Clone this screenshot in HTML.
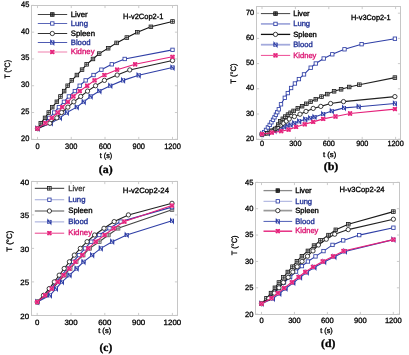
<!DOCTYPE html>
<html><head><meta charset="utf-8"><style>
html,body{margin:0;padding:0;background:#fff;width:409px;height:355px;overflow:hidden}
svg{display:block;will-change:transform} text{text-rendering:geometricPrecision}
</style></head><body>
<svg width="409" height="355" viewBox="0 0 409 355">
<rect width="409" height="355" fill="#fff"/>
<rect x="31.5" y="5.5" width="146.0" height="134.0" fill="none" stroke="#c6c6c6" stroke-width="1"/>
<path d="M31.5 139.30h2.6M177.5 139.30h-2.6" stroke="#c6c6c6" stroke-width="0.9"/>
<text x="29.40" y="140.70" font-family="Liberation Sans" font-size="7.9" fill="#000" stroke="#000" stroke-width="0.3" text-anchor="end" textLength="8.3" lengthAdjust="spacingAndGlyphs">20</text>
<path d="M31.5 112.52h2.6M177.5 112.52h-2.6" stroke="#c6c6c6" stroke-width="0.9"/>
<text x="29.40" y="113.92" font-family="Liberation Sans" font-size="7.9" fill="#000" stroke="#000" stroke-width="0.3" text-anchor="end" textLength="8.3" lengthAdjust="spacingAndGlyphs">25</text>
<path d="M31.5 85.74h2.6M177.5 85.74h-2.6" stroke="#c6c6c6" stroke-width="0.9"/>
<text x="29.40" y="87.14" font-family="Liberation Sans" font-size="7.9" fill="#000" stroke="#000" stroke-width="0.3" text-anchor="end" textLength="8.3" lengthAdjust="spacingAndGlyphs">30</text>
<path d="M31.5 58.96h2.6M177.5 58.96h-2.6" stroke="#c6c6c6" stroke-width="0.9"/>
<text x="29.40" y="60.36" font-family="Liberation Sans" font-size="7.9" fill="#000" stroke="#000" stroke-width="0.3" text-anchor="end" textLength="8.3" lengthAdjust="spacingAndGlyphs">35</text>
<path d="M31.5 32.18h2.6M177.5 32.18h-2.6" stroke="#c6c6c6" stroke-width="0.9"/>
<text x="29.40" y="33.58" font-family="Liberation Sans" font-size="7.9" fill="#000" stroke="#000" stroke-width="0.3" text-anchor="end" textLength="8.3" lengthAdjust="spacingAndGlyphs">40</text>
<path d="M31.5 5.40h2.6M177.5 5.40h-2.6" stroke="#c6c6c6" stroke-width="0.9"/>
<text x="29.40" y="6.80" font-family="Liberation Sans" font-size="7.9" fill="#000" stroke="#000" stroke-width="0.3" text-anchor="end" textLength="8.3" lengthAdjust="spacingAndGlyphs">45</text>
<path d="M37.50 139.5v-2.6M37.50 5.5v2.6" stroke="#c6c6c6" stroke-width="0.9"/>
<text x="37.50" y="148.70" font-family="Liberation Sans" font-size="7.9" fill="#000" stroke="#000" stroke-width="0.3" text-anchor="middle" textLength="4.15" lengthAdjust="spacingAndGlyphs">0</text>
<path d="M71.25 139.5v-2.6M71.25 5.5v2.6" stroke="#c6c6c6" stroke-width="0.9"/>
<text x="71.25" y="148.70" font-family="Liberation Sans" font-size="7.9" fill="#000" stroke="#000" stroke-width="0.3" text-anchor="middle" textLength="12.450000000000001" lengthAdjust="spacingAndGlyphs">300</text>
<path d="M105.00 139.5v-2.6M105.00 5.5v2.6" stroke="#c6c6c6" stroke-width="0.9"/>
<text x="105.00" y="148.70" font-family="Liberation Sans" font-size="7.9" fill="#000" stroke="#000" stroke-width="0.3" text-anchor="middle" textLength="12.450000000000001" lengthAdjust="spacingAndGlyphs">600</text>
<path d="M138.75 139.5v-2.6M138.75 5.5v2.6" stroke="#c6c6c6" stroke-width="0.9"/>
<text x="138.75" y="148.70" font-family="Liberation Sans" font-size="7.9" fill="#000" stroke="#000" stroke-width="0.3" text-anchor="middle" textLength="12.450000000000001" lengthAdjust="spacingAndGlyphs">900</text>
<path d="M172.50 139.5v-2.6M172.50 5.5v2.6" stroke="#c6c6c6" stroke-width="0.9"/>
<text x="172.50" y="148.70" font-family="Liberation Sans" font-size="7.9" fill="#000" stroke="#000" stroke-width="0.3" text-anchor="middle" textLength="16.6" lengthAdjust="spacingAndGlyphs">1200</text>
<text x="106.00" y="158.20" font-family="Liberation Sans" font-size="7.3" fill="#000" stroke="#000" stroke-width="0.33" text-anchor="middle" textLength="12.5" lengthAdjust="spacingAndGlyphs">t (s)</text>
<text x="105.70" y="172.50" font-family="Liberation Serif" font-size="11.3" fill="#000" stroke="#000" stroke-width="0.33" text-anchor="middle" textLength="13.8" lengthAdjust="spacingAndGlyphs" font-weight="bold">(a)</text>
<text transform="translate(9.6 69.3) rotate(-90)" font-family="Liberation Sans" font-size="7.8" stroke="#000" stroke-width="0.3" text-anchor="middle" textLength="18.6" lengthAdjust="spacingAndGlyphs">T (°C)</text>
<text x="123.10" y="19.10" font-family="Liberation Sans" font-size="7.7" fill="#000" stroke="#000" stroke-width="0.33" textLength="40.3" lengthAdjust="spacingAndGlyphs">H-v2Cop2-1</text>
<path d="M37.50 128.59 L50.89 123.23 L60.00 117.88 L66.86 112.52 L76.76 107.16 L83.74 101.81 L90.60 96.45 L99.38 91.10 L110.29 85.74 L123.11 80.38 L138.64 75.30 L172.50 67.53" fill="none" stroke="#2f3fa6" stroke-width="1.1"/>
<rect x="35.80" y="126.89" width="3.40" height="3.40" fill="#fff" stroke="#2f3fa6" stroke-width="0.5"/><path d="M36.05 130.54V126.64L38.95 130.54V126.64" fill="none" stroke="#2f3fa6" stroke-width="1.1"/>
<rect x="49.19" y="121.53" width="3.40" height="3.40" fill="#fff" stroke="#2f3fa6" stroke-width="0.5"/><path d="M49.44 125.18V121.28L52.34 125.18V121.28" fill="none" stroke="#2f3fa6" stroke-width="1.1"/>
<rect x="58.30" y="116.18" width="3.40" height="3.40" fill="#fff" stroke="#2f3fa6" stroke-width="0.5"/><path d="M58.55 119.83V115.93L61.45 119.83V115.93" fill="none" stroke="#2f3fa6" stroke-width="1.1"/>
<rect x="65.16" y="110.82" width="3.40" height="3.40" fill="#fff" stroke="#2f3fa6" stroke-width="0.5"/><path d="M65.41 114.47V110.57L68.31 114.47V110.57" fill="none" stroke="#2f3fa6" stroke-width="1.1"/>
<rect x="75.06" y="105.46" width="3.40" height="3.40" fill="#fff" stroke="#2f3fa6" stroke-width="0.5"/><path d="M75.31 109.11V105.21L78.21 109.11V105.21" fill="none" stroke="#2f3fa6" stroke-width="1.1"/>
<rect x="82.04" y="100.11" width="3.40" height="3.40" fill="#fff" stroke="#2f3fa6" stroke-width="0.5"/><path d="M82.29 103.76V99.86L85.19 103.76V99.86" fill="none" stroke="#2f3fa6" stroke-width="1.1"/>
<rect x="88.90" y="94.75" width="3.40" height="3.40" fill="#fff" stroke="#2f3fa6" stroke-width="0.5"/><path d="M89.15 98.40V94.50L92.05 98.40V94.50" fill="none" stroke="#2f3fa6" stroke-width="1.1"/>
<rect x="97.67" y="89.40" width="3.40" height="3.40" fill="#fff" stroke="#2f3fa6" stroke-width="0.5"/><path d="M97.92 93.05V89.15L100.83 93.05V89.15" fill="none" stroke="#2f3fa6" stroke-width="1.1"/>
<rect x="108.59" y="84.04" width="3.40" height="3.40" fill="#fff" stroke="#2f3fa6" stroke-width="0.5"/><path d="M108.84 87.69V83.79L111.74 87.69V83.79" fill="none" stroke="#2f3fa6" stroke-width="1.1"/>
<rect x="121.41" y="78.68" width="3.40" height="3.40" fill="#fff" stroke="#2f3fa6" stroke-width="0.5"/><path d="M121.66 82.33V78.43L124.56 82.33V78.43" fill="none" stroke="#2f3fa6" stroke-width="1.1"/>
<rect x="136.94" y="73.60" width="3.40" height="3.40" fill="#fff" stroke="#2f3fa6" stroke-width="0.5"/><path d="M137.19 77.25V73.35L140.09 77.25V73.35" fill="none" stroke="#2f3fa6" stroke-width="1.1"/>
<rect x="170.80" y="65.83" width="3.40" height="3.40" fill="#fff" stroke="#2f3fa6" stroke-width="0.5"/><path d="M171.05 69.48V65.58L173.95 69.48V65.58" fill="none" stroke="#2f3fa6" stroke-width="1.1"/>
<path d="M37.50 128.59 L49.88 123.23 L56.85 117.88 L61.58 112.52 L67.88 107.16 L73.84 101.81 L80.70 96.45 L87.56 91.10 L95.55 85.74 L104.44 80.38 L117.15 75.03 L129.75 69.94 L172.50 60.57" fill="none" stroke="#222" stroke-width="1.1"/>
<circle cx="37.50" cy="128.59" r="2.15" fill="#fff" stroke="#1e1e1e" stroke-width="0.85"/>
<circle cx="49.88" cy="123.23" r="2.15" fill="#fff" stroke="#1e1e1e" stroke-width="0.85"/>
<circle cx="56.85" cy="117.88" r="2.15" fill="#fff" stroke="#1e1e1e" stroke-width="0.85"/>
<circle cx="61.58" cy="112.52" r="2.15" fill="#fff" stroke="#1e1e1e" stroke-width="0.85"/>
<circle cx="67.88" cy="107.16" r="2.15" fill="#fff" stroke="#1e1e1e" stroke-width="0.85"/>
<circle cx="73.84" cy="101.81" r="2.15" fill="#fff" stroke="#1e1e1e" stroke-width="0.85"/>
<circle cx="80.70" cy="96.45" r="2.15" fill="#fff" stroke="#1e1e1e" stroke-width="0.85"/>
<circle cx="87.56" cy="91.10" r="2.15" fill="#fff" stroke="#1e1e1e" stroke-width="0.85"/>
<circle cx="95.55" cy="85.74" r="2.15" fill="#fff" stroke="#1e1e1e" stroke-width="0.85"/>
<circle cx="104.44" cy="80.38" r="2.15" fill="#fff" stroke="#1e1e1e" stroke-width="0.85"/>
<circle cx="117.15" cy="75.03" r="2.15" fill="#fff" stroke="#1e1e1e" stroke-width="0.85"/>
<circle cx="129.75" cy="69.94" r="2.15" fill="#fff" stroke="#1e1e1e" stroke-width="0.85"/>
<circle cx="172.50" cy="60.57" r="2.15" fill="#fff" stroke="#1e1e1e" stroke-width="0.85"/>
<path d="M37.50 128.59 L43.69 123.23 L49.31 117.88 L54.15 112.52 L58.88 107.16 L63.94 101.81 L68.89 96.45 L74.85 91.10 L79.69 85.74 L85.65 80.38 L93.53 75.03 L101.40 69.67 L111.75 64.32 L124.69 58.96 L172.50 49.85" fill="none" stroke="#2f3fa6" stroke-width="1.1"/>
<rect x="35.80" y="126.89" width="3.40" height="3.40" fill="#fff" stroke="#2f3fa6" stroke-width="0.85"/>
<rect x="41.99" y="121.53" width="3.40" height="3.40" fill="#fff" stroke="#2f3fa6" stroke-width="0.85"/>
<rect x="47.61" y="116.18" width="3.40" height="3.40" fill="#fff" stroke="#2f3fa6" stroke-width="0.85"/>
<rect x="52.45" y="110.82" width="3.40" height="3.40" fill="#fff" stroke="#2f3fa6" stroke-width="0.85"/>
<rect x="57.17" y="105.46" width="3.40" height="3.40" fill="#fff" stroke="#2f3fa6" stroke-width="0.85"/>
<rect x="62.24" y="100.11" width="3.40" height="3.40" fill="#fff" stroke="#2f3fa6" stroke-width="0.85"/>
<rect x="67.19" y="94.75" width="3.40" height="3.40" fill="#fff" stroke="#2f3fa6" stroke-width="0.85"/>
<rect x="73.15" y="89.40" width="3.40" height="3.40" fill="#fff" stroke="#2f3fa6" stroke-width="0.85"/>
<rect x="77.99" y="84.04" width="3.40" height="3.40" fill="#fff" stroke="#2f3fa6" stroke-width="0.85"/>
<rect x="83.95" y="78.68" width="3.40" height="3.40" fill="#fff" stroke="#2f3fa6" stroke-width="0.85"/>
<rect x="91.83" y="73.33" width="3.40" height="3.40" fill="#fff" stroke="#2f3fa6" stroke-width="0.85"/>
<rect x="99.70" y="67.97" width="3.40" height="3.40" fill="#fff" stroke="#2f3fa6" stroke-width="0.85"/>
<rect x="110.05" y="62.62" width="3.40" height="3.40" fill="#fff" stroke="#2f3fa6" stroke-width="0.85"/>
<rect x="122.99" y="57.26" width="3.40" height="3.40" fill="#fff" stroke="#2f3fa6" stroke-width="0.85"/>
<rect x="170.80" y="48.15" width="3.40" height="3.40" fill="#fff" stroke="#2f3fa6" stroke-width="0.85"/>
<path d="M37.50 128.59 L40.76 123.23 L45.04 117.88 L48.75 112.52 L52.24 107.16 L56.85 101.81 L60.45 96.45 L64.16 91.10 L67.65 85.74 L71.81 80.38 L76.88 75.03 L82.05 69.67 L86.66 64.32 L92.96 58.96 L99.15 53.60 L108.15 48.25 L116.59 42.89 L126.83 37.54 L137.40 32.18 L150.90 26.82 L172.50 21.47" fill="none" stroke="#111" stroke-width="1.1"/>
<rect x="35.70" y="126.79" width="3.60" height="3.60" fill="#e4e4e4" stroke="#111" stroke-width="0.75"/><path d="M37.50 126.79V130.39M35.70 128.59H39.30" stroke="#111" stroke-width="0.6"/>
<rect x="38.96" y="121.43" width="3.60" height="3.60" fill="#e4e4e4" stroke="#111" stroke-width="0.75"/><path d="M40.76 121.43V125.03M38.96 123.23H42.56" stroke="#111" stroke-width="0.6"/>
<rect x="43.24" y="116.08" width="3.60" height="3.60" fill="#e4e4e4" stroke="#111" stroke-width="0.75"/><path d="M45.04 116.08V119.68M43.24 117.88H46.84" stroke="#111" stroke-width="0.6"/>
<rect x="46.95" y="110.72" width="3.60" height="3.60" fill="#e4e4e4" stroke="#111" stroke-width="0.75"/><path d="M48.75 110.72V114.32M46.95 112.52H50.55" stroke="#111" stroke-width="0.6"/>
<rect x="50.44" y="105.36" width="3.60" height="3.60" fill="#e4e4e4" stroke="#111" stroke-width="0.75"/><path d="M52.24 105.36V108.96M50.44 107.16H54.04" stroke="#111" stroke-width="0.6"/>
<rect x="55.05" y="100.01" width="3.60" height="3.60" fill="#e4e4e4" stroke="#111" stroke-width="0.75"/><path d="M56.85 100.01V103.61M55.05 101.81H58.65" stroke="#111" stroke-width="0.6"/>
<rect x="58.65" y="94.65" width="3.60" height="3.60" fill="#e4e4e4" stroke="#111" stroke-width="0.75"/><path d="M60.45 94.65V98.25M58.65 96.45H62.25" stroke="#111" stroke-width="0.6"/>
<rect x="62.36" y="89.30" width="3.60" height="3.60" fill="#e4e4e4" stroke="#111" stroke-width="0.75"/><path d="M64.16 89.30V92.90M62.36 91.10H65.96" stroke="#111" stroke-width="0.6"/>
<rect x="65.85" y="83.94" width="3.60" height="3.60" fill="#e4e4e4" stroke="#111" stroke-width="0.75"/><path d="M67.65 83.94V87.54M65.85 85.74H69.45" stroke="#111" stroke-width="0.6"/>
<rect x="70.01" y="78.58" width="3.60" height="3.60" fill="#e4e4e4" stroke="#111" stroke-width="0.75"/><path d="M71.81 78.58V82.18M70.01 80.38H73.61" stroke="#111" stroke-width="0.6"/>
<rect x="75.08" y="73.23" width="3.60" height="3.60" fill="#e4e4e4" stroke="#111" stroke-width="0.75"/><path d="M76.88 73.23V76.83M75.08 75.03H78.67" stroke="#111" stroke-width="0.6"/>
<rect x="80.25" y="67.87" width="3.60" height="3.60" fill="#e4e4e4" stroke="#111" stroke-width="0.75"/><path d="M82.05 67.87V71.47M80.25 69.67H83.85" stroke="#111" stroke-width="0.6"/>
<rect x="84.86" y="62.52" width="3.60" height="3.60" fill="#e4e4e4" stroke="#111" stroke-width="0.75"/><path d="M86.66 62.52V66.12M84.86 64.32H88.46" stroke="#111" stroke-width="0.6"/>
<rect x="91.16" y="57.16" width="3.60" height="3.60" fill="#e4e4e4" stroke="#111" stroke-width="0.75"/><path d="M92.96 57.16V60.76M91.16 58.96H94.76" stroke="#111" stroke-width="0.6"/>
<rect x="97.35" y="51.80" width="3.60" height="3.60" fill="#e4e4e4" stroke="#111" stroke-width="0.75"/><path d="M99.15 51.80V55.40M97.35 53.60H100.95" stroke="#111" stroke-width="0.6"/>
<rect x="106.35" y="46.45" width="3.60" height="3.60" fill="#e4e4e4" stroke="#111" stroke-width="0.75"/><path d="M108.15 46.45V50.05M106.35 48.25H109.95" stroke="#111" stroke-width="0.6"/>
<rect x="114.79" y="41.09" width="3.60" height="3.60" fill="#e4e4e4" stroke="#111" stroke-width="0.75"/><path d="M116.59 41.09V44.69M114.79 42.89H118.39" stroke="#111" stroke-width="0.6"/>
<rect x="125.03" y="35.74" width="3.60" height="3.60" fill="#e4e4e4" stroke="#111" stroke-width="0.75"/><path d="M126.83 35.74V39.34M125.03 37.54H128.62" stroke="#111" stroke-width="0.6"/>
<rect x="135.60" y="30.38" width="3.60" height="3.60" fill="#e4e4e4" stroke="#111" stroke-width="0.75"/><path d="M137.40 30.38V33.98M135.60 32.18H139.20" stroke="#111" stroke-width="0.6"/>
<rect x="149.10" y="25.02" width="3.60" height="3.60" fill="#e4e4e4" stroke="#111" stroke-width="0.75"/><path d="M150.90 25.02V28.62M149.10 26.82H152.70" stroke="#111" stroke-width="0.6"/>
<rect x="170.70" y="19.67" width="3.60" height="3.60" fill="#e4e4e4" stroke="#111" stroke-width="0.75"/><path d="M172.50 19.67V23.27M170.70 21.47H174.30" stroke="#111" stroke-width="0.6"/>
<path d="M37.50 128.59 L45.38 123.23 L51.79 117.88 L57.75 112.52 L62.25 107.16 L67.88 101.81 L73.39 96.45 L79.69 91.10 L87.22 85.74 L94.54 80.38 L104.44 75.03 L117.15 69.67 L135.15 64.32 L172.50 56.82" fill="none" stroke="#e5207a" stroke-width="1.1"/>
<rect x="35.60" y="126.69" width="3.80" height="3.80" fill="#fff" stroke="none"/><path d="M35.60 126.69L39.40 130.49M39.40 126.69L35.60 130.49" stroke="#e5207a" stroke-width="1.4"/><rect x="35.90" y="126.99" width="3.20" height="3.20" fill="none" stroke="#e5207a" stroke-width="0.7"/>
<rect x="43.48" y="121.33" width="3.80" height="3.80" fill="#fff" stroke="none"/><path d="M43.48 121.33L47.27 125.13M47.27 121.33L43.48 125.13" stroke="#e5207a" stroke-width="1.4"/><rect x="43.77" y="121.63" width="3.20" height="3.20" fill="none" stroke="#e5207a" stroke-width="0.7"/>
<rect x="49.89" y="115.98" width="3.80" height="3.80" fill="#fff" stroke="none"/><path d="M49.89 115.98L53.69 119.78M53.69 115.98L49.89 119.78" stroke="#e5207a" stroke-width="1.4"/><rect x="50.19" y="116.28" width="3.20" height="3.20" fill="none" stroke="#e5207a" stroke-width="0.7"/>
<rect x="55.85" y="110.62" width="3.80" height="3.80" fill="#fff" stroke="none"/><path d="M55.85 110.62L59.65 114.42M59.65 110.62L55.85 114.42" stroke="#e5207a" stroke-width="1.4"/><rect x="56.15" y="110.92" width="3.20" height="3.20" fill="none" stroke="#e5207a" stroke-width="0.7"/>
<rect x="60.35" y="105.26" width="3.80" height="3.80" fill="#fff" stroke="none"/><path d="M60.35 105.26L64.15 109.06M64.15 105.26L60.35 109.06" stroke="#e5207a" stroke-width="1.4"/><rect x="60.65" y="105.56" width="3.20" height="3.20" fill="none" stroke="#e5207a" stroke-width="0.7"/>
<rect x="65.97" y="99.91" width="3.80" height="3.80" fill="#fff" stroke="none"/><path d="M65.97 99.91L69.78 103.71M69.78 99.91L65.97 103.71" stroke="#e5207a" stroke-width="1.4"/><rect x="66.27" y="100.21" width="3.20" height="3.20" fill="none" stroke="#e5207a" stroke-width="0.7"/>
<rect x="71.49" y="94.55" width="3.80" height="3.80" fill="#fff" stroke="none"/><path d="M71.49 94.55L75.29 98.35M75.29 94.55L71.49 98.35" stroke="#e5207a" stroke-width="1.4"/><rect x="71.79" y="94.85" width="3.20" height="3.20" fill="none" stroke="#e5207a" stroke-width="0.7"/>
<rect x="77.79" y="89.20" width="3.80" height="3.80" fill="#fff" stroke="none"/><path d="M77.79 89.20L81.59 93.00M81.59 89.20L77.79 93.00" stroke="#e5207a" stroke-width="1.4"/><rect x="78.09" y="89.50" width="3.20" height="3.20" fill="none" stroke="#e5207a" stroke-width="0.7"/>
<rect x="85.32" y="83.84" width="3.80" height="3.80" fill="#fff" stroke="none"/><path d="M85.32 83.84L89.12 87.64M89.12 83.84L85.32 87.64" stroke="#e5207a" stroke-width="1.4"/><rect x="85.62" y="84.14" width="3.20" height="3.20" fill="none" stroke="#e5207a" stroke-width="0.7"/>
<rect x="92.64" y="78.48" width="3.80" height="3.80" fill="#fff" stroke="none"/><path d="M92.64 78.48L96.44 82.28M96.44 78.48L92.64 82.28" stroke="#e5207a" stroke-width="1.4"/><rect x="92.94" y="78.78" width="3.20" height="3.20" fill="none" stroke="#e5207a" stroke-width="0.7"/>
<rect x="102.54" y="73.13" width="3.80" height="3.80" fill="#fff" stroke="none"/><path d="M102.54 73.13L106.34 76.93M106.34 73.13L102.54 76.93" stroke="#e5207a" stroke-width="1.4"/><rect x="102.84" y="73.43" width="3.20" height="3.20" fill="none" stroke="#e5207a" stroke-width="0.7"/>
<rect x="115.25" y="67.77" width="3.80" height="3.80" fill="#fff" stroke="none"/><path d="M115.25 67.77L119.05 71.57M119.05 67.77L115.25 71.57" stroke="#e5207a" stroke-width="1.4"/><rect x="115.55" y="68.07" width="3.20" height="3.20" fill="none" stroke="#e5207a" stroke-width="0.7"/>
<rect x="133.25" y="62.42" width="3.80" height="3.80" fill="#fff" stroke="none"/><path d="M133.25 62.42L137.05 66.22M137.05 62.42L133.25 66.22" stroke="#e5207a" stroke-width="1.4"/><rect x="133.55" y="62.72" width="3.20" height="3.20" fill="none" stroke="#e5207a" stroke-width="0.7"/>
<rect x="170.60" y="54.92" width="3.80" height="3.80" fill="#fff" stroke="none"/><path d="M170.60 54.92L174.40 58.72M174.40 54.92L170.60 58.72" stroke="#e5207a" stroke-width="1.4"/><rect x="170.90" y="55.22" width="3.20" height="3.20" fill="none" stroke="#e5207a" stroke-width="0.7"/>
<path d="M37.8 14.5H67.2" stroke="#444" stroke-width="1.0"/>
<rect x="50.50" y="12.70" width="3.60" height="3.60" fill="#777" stroke="#111" stroke-width="0.75"/><path d="M52.30 12.70V16.30M50.50 14.50H54.10" stroke="#111" stroke-width="0.6"/>
<text x="70.70" y="16.70" font-family="Liberation Sans" font-size="7.8" fill="#000" stroke="#000" stroke-width="0.33">Liver</text>
<path d="M37.8 23.5H67.2" stroke="#5a66b8" stroke-width="1.0"/>
<rect x="50.60" y="21.80" width="3.40" height="3.40" fill="#fff" stroke="#2f3fa6" stroke-width="0.85"/>
<text x="70.70" y="25.70" font-family="Liberation Sans" font-size="7.8" fill="#1f2f94" stroke="#1f2f94" stroke-width="0.33">Lung</text>
<path d="M37.8 33.5H67.2" stroke="#333" stroke-width="1.0"/>
<circle cx="52.30" cy="33.50" r="2.15" fill="#fff" stroke="#1e1e1e" stroke-width="0.85"/>
<text x="70.70" y="35.70" font-family="Liberation Sans" font-size="7.8" fill="#000" stroke="#000" stroke-width="0.33">Spleen</text>
<path d="M37.8 42.5H67.2" stroke="#4e5ab2" stroke-width="1.0"/>
<rect x="50.60" y="40.80" width="3.40" height="3.40" fill="#fff" stroke="#2f3fa6" stroke-width="0.5"/><path d="M50.85 44.45V40.55L53.75 44.45V40.55" fill="none" stroke="#2f3fa6" stroke-width="1.1"/>
<text x="70.70" y="44.70" font-family="Liberation Sans" font-size="7.8" fill="#1f2f94" stroke="#1f2f94" stroke-width="0.33">Blood</text>
<path d="M37.8 52H67.2" stroke="#f39cc0" stroke-width="1.3"/>
<rect x="50.40" y="50.10" width="3.80" height="3.80" fill="#fff" stroke="none"/><path d="M50.40 50.10L54.20 53.90M54.20 50.10L50.40 53.90" stroke="#e5207a" stroke-width="1.4"/><rect x="50.70" y="50.40" width="3.20" height="3.20" fill="none" stroke="#e5207a" stroke-width="0.7"/>
<text x="70.70" y="54.20" font-family="Liberation Sans" font-size="7.8" fill="#dc1472" stroke="#dc1472" stroke-width="0.33">Kidney</text>
<rect x="256.5" y="6.5" width="144.0" height="133.0" fill="none" stroke="#c6c6c6" stroke-width="1"/>
<path d="M256.5 139.20h2.6M400.5 139.20h-2.6" stroke="#c6c6c6" stroke-width="0.9"/>
<text x="254.10" y="140.70" font-family="Liberation Sans" font-size="7.5" fill="#000" stroke="#000" stroke-width="0.3" text-anchor="end" textLength="8.1" lengthAdjust="spacingAndGlyphs">20</text>
<path d="M256.5 114.00h2.6M400.5 114.00h-2.6" stroke="#c6c6c6" stroke-width="0.9"/>
<text x="254.10" y="115.50" font-family="Liberation Sans" font-size="7.5" fill="#000" stroke="#000" stroke-width="0.3" text-anchor="end" textLength="8.1" lengthAdjust="spacingAndGlyphs">30</text>
<path d="M256.5 88.80h2.6M400.5 88.80h-2.6" stroke="#c6c6c6" stroke-width="0.9"/>
<text x="254.10" y="90.30" font-family="Liberation Sans" font-size="7.5" fill="#000" stroke="#000" stroke-width="0.3" text-anchor="end" textLength="8.1" lengthAdjust="spacingAndGlyphs">40</text>
<path d="M256.5 63.60h2.6M400.5 63.60h-2.6" stroke="#c6c6c6" stroke-width="0.9"/>
<text x="254.10" y="65.10" font-family="Liberation Sans" font-size="7.5" fill="#000" stroke="#000" stroke-width="0.3" text-anchor="end" textLength="8.1" lengthAdjust="spacingAndGlyphs">50</text>
<path d="M256.5 38.40h2.6M400.5 38.40h-2.6" stroke="#c6c6c6" stroke-width="0.9"/>
<text x="254.10" y="39.90" font-family="Liberation Sans" font-size="7.5" fill="#000" stroke="#000" stroke-width="0.3" text-anchor="end" textLength="8.1" lengthAdjust="spacingAndGlyphs">60</text>
<path d="M256.5 13.20h2.6M400.5 13.20h-2.6" stroke="#c6c6c6" stroke-width="0.9"/>
<text x="254.10" y="14.70" font-family="Liberation Sans" font-size="7.5" fill="#000" stroke="#000" stroke-width="0.3" text-anchor="end" textLength="8.1" lengthAdjust="spacingAndGlyphs">70</text>
<path d="M262.00 139.5v-2.6M262.00 6.5v2.6" stroke="#c6c6c6" stroke-width="0.9"/>
<text x="262.00" y="146.10" font-family="Liberation Sans" font-size="7.5" fill="#000" stroke="#000" stroke-width="0.3" text-anchor="middle" textLength="4.05" lengthAdjust="spacingAndGlyphs">0</text>
<path d="M295.40 139.5v-2.6M295.40 6.5v2.6" stroke="#c6c6c6" stroke-width="0.9"/>
<text x="295.40" y="146.10" font-family="Liberation Sans" font-size="7.5" fill="#000" stroke="#000" stroke-width="0.3" text-anchor="middle" textLength="12.149999999999999" lengthAdjust="spacingAndGlyphs">300</text>
<path d="M328.80 139.5v-2.6M328.80 6.5v2.6" stroke="#c6c6c6" stroke-width="0.9"/>
<text x="328.80" y="146.10" font-family="Liberation Sans" font-size="7.5" fill="#000" stroke="#000" stroke-width="0.3" text-anchor="middle" textLength="12.149999999999999" lengthAdjust="spacingAndGlyphs">600</text>
<path d="M362.20 139.5v-2.6M362.20 6.5v2.6" stroke="#c6c6c6" stroke-width="0.9"/>
<text x="362.20" y="146.10" font-family="Liberation Sans" font-size="7.5" fill="#000" stroke="#000" stroke-width="0.3" text-anchor="middle" textLength="12.149999999999999" lengthAdjust="spacingAndGlyphs">900</text>
<path d="M395.60 139.5v-2.6M395.60 6.5v2.6" stroke="#c6c6c6" stroke-width="0.9"/>
<text x="395.60" y="146.10" font-family="Liberation Sans" font-size="7.5" fill="#000" stroke="#000" stroke-width="0.3" text-anchor="middle" textLength="16.2" lengthAdjust="spacingAndGlyphs">1200</text>
<text x="329.60" y="157.20" font-family="Liberation Sans" font-size="7.3" fill="#000" stroke="#000" stroke-width="0.33" text-anchor="middle" textLength="13.3" lengthAdjust="spacingAndGlyphs">t (s)</text>
<text x="331.00" y="170.20" font-family="Liberation Serif" font-size="11.3" fill="#000" stroke="#000" stroke-width="0.33" text-anchor="middle" textLength="14.6" lengthAdjust="spacingAndGlyphs" font-weight="bold">(b)</text>
<text transform="translate(236.0 73.6) rotate(-90)" font-family="Liberation Sans" font-size="7.8" stroke="#000" stroke-width="0.3" text-anchor="middle" textLength="20.4" lengthAdjust="spacingAndGlyphs">T (°C)</text>
<text x="351.00" y="19.60" font-family="Liberation Sans" font-size="7.5" fill="#000" stroke="#000" stroke-width="0.33" textLength="39.6" lengthAdjust="spacingAndGlyphs">H-v3Cop2-1</text>
<path d="M262.00 134.20 L268.00 133.10 L274.50 130.80 L278.00 129.40 L281.40 128.00 L284.40 126.80 L287.50 125.80 L290.60 124.80 L294.30 123.10 L299.20 121.30 L305.30 119.40 L310.20 118.20 L314.50 117.00 L323.20 114.00 L331.80 111.10 L344.00 107.90 L358.70 106.70 L394.90 103.50" fill="none" stroke="#2f3fa6" stroke-width="1.1"/>
<rect x="260.30" y="132.50" width="3.40" height="3.40" fill="#fff" stroke="#2f3fa6" stroke-width="0.5"/><path d="M260.55 136.15V132.25L263.45 136.15V132.25" fill="none" stroke="#2f3fa6" stroke-width="1.1"/>
<rect x="266.30" y="131.40" width="3.40" height="3.40" fill="#fff" stroke="#2f3fa6" stroke-width="0.5"/><path d="M266.55 135.05V131.15L269.45 135.05V131.15" fill="none" stroke="#2f3fa6" stroke-width="1.1"/>
<rect x="272.80" y="129.10" width="3.40" height="3.40" fill="#fff" stroke="#2f3fa6" stroke-width="0.5"/><path d="M273.05 132.75V128.85L275.95 132.75V128.85" fill="none" stroke="#2f3fa6" stroke-width="1.1"/>
<rect x="276.30" y="127.70" width="3.40" height="3.40" fill="#fff" stroke="#2f3fa6" stroke-width="0.5"/><path d="M276.55 131.35V127.45L279.45 131.35V127.45" fill="none" stroke="#2f3fa6" stroke-width="1.1"/>
<rect x="279.70" y="126.30" width="3.40" height="3.40" fill="#fff" stroke="#2f3fa6" stroke-width="0.5"/><path d="M279.95 129.95V126.05L282.85 129.95V126.05" fill="none" stroke="#2f3fa6" stroke-width="1.1"/>
<rect x="282.70" y="125.10" width="3.40" height="3.40" fill="#fff" stroke="#2f3fa6" stroke-width="0.5"/><path d="M282.95 128.75V124.85L285.85 128.75V124.85" fill="none" stroke="#2f3fa6" stroke-width="1.1"/>
<rect x="285.80" y="124.10" width="3.40" height="3.40" fill="#fff" stroke="#2f3fa6" stroke-width="0.5"/><path d="M286.05 127.75V123.85L288.95 127.75V123.85" fill="none" stroke="#2f3fa6" stroke-width="1.1"/>
<rect x="288.90" y="123.10" width="3.40" height="3.40" fill="#fff" stroke="#2f3fa6" stroke-width="0.5"/><path d="M289.15 126.75V122.85L292.05 126.75V122.85" fill="none" stroke="#2f3fa6" stroke-width="1.1"/>
<rect x="292.60" y="121.40" width="3.40" height="3.40" fill="#fff" stroke="#2f3fa6" stroke-width="0.5"/><path d="M292.85 125.05V121.15L295.75 125.05V121.15" fill="none" stroke="#2f3fa6" stroke-width="1.1"/>
<rect x="297.50" y="119.60" width="3.40" height="3.40" fill="#fff" stroke="#2f3fa6" stroke-width="0.5"/><path d="M297.75 123.25V119.35L300.65 123.25V119.35" fill="none" stroke="#2f3fa6" stroke-width="1.1"/>
<rect x="303.60" y="117.70" width="3.40" height="3.40" fill="#fff" stroke="#2f3fa6" stroke-width="0.5"/><path d="M303.85 121.35V117.45L306.75 121.35V117.45" fill="none" stroke="#2f3fa6" stroke-width="1.1"/>
<rect x="308.50" y="116.50" width="3.40" height="3.40" fill="#fff" stroke="#2f3fa6" stroke-width="0.5"/><path d="M308.75 120.15V116.25L311.65 120.15V116.25" fill="none" stroke="#2f3fa6" stroke-width="1.1"/>
<rect x="312.80" y="115.30" width="3.40" height="3.40" fill="#fff" stroke="#2f3fa6" stroke-width="0.5"/><path d="M313.05 118.95V115.05L315.95 118.95V115.05" fill="none" stroke="#2f3fa6" stroke-width="1.1"/>
<rect x="321.50" y="112.30" width="3.40" height="3.40" fill="#fff" stroke="#2f3fa6" stroke-width="0.5"/><path d="M321.75 115.95V112.05L324.65 115.95V112.05" fill="none" stroke="#2f3fa6" stroke-width="1.1"/>
<rect x="330.10" y="109.40" width="3.40" height="3.40" fill="#fff" stroke="#2f3fa6" stroke-width="0.5"/><path d="M330.35 113.05V109.15L333.25 113.05V109.15" fill="none" stroke="#2f3fa6" stroke-width="1.1"/>
<rect x="342.30" y="106.20" width="3.40" height="3.40" fill="#fff" stroke="#2f3fa6" stroke-width="0.5"/><path d="M342.55 109.85V105.95L345.45 109.85V105.95" fill="none" stroke="#2f3fa6" stroke-width="1.1"/>
<rect x="357.00" y="105.00" width="3.40" height="3.40" fill="#fff" stroke="#2f3fa6" stroke-width="0.5"/><path d="M357.25 108.65V104.75L360.15 108.65V104.75" fill="none" stroke="#2f3fa6" stroke-width="1.1"/>
<rect x="393.20" y="101.80" width="3.40" height="3.40" fill="#fff" stroke="#2f3fa6" stroke-width="0.5"/><path d="M393.45 105.45V101.55L396.35 105.45V101.55" fill="none" stroke="#2f3fa6" stroke-width="1.1"/>
<path d="M262.00 134.20 L265.30 133.20 L268.40 132.10 L271.50 130.80 L274.50 129.40 L277.40 127.40 L280.40 125.30 L283.30 123.20 L286.30 121.10 L289.20 119.00 L294.40 116.50 L300.00 114.20 L306.00 111.40 L313.20 108.40 L320.80 106.40 L330.60 103.50 L343.50 101.60 L394.90 96.60" fill="none" stroke="#222" stroke-width="1.1"/>
<circle cx="262.00" cy="134.20" r="2.15" fill="#fff" stroke="#1e1e1e" stroke-width="0.85"/>
<circle cx="265.30" cy="133.20" r="2.15" fill="#fff" stroke="#1e1e1e" stroke-width="0.85"/>
<circle cx="268.40" cy="132.10" r="2.15" fill="#fff" stroke="#1e1e1e" stroke-width="0.85"/>
<circle cx="271.50" cy="130.80" r="2.15" fill="#fff" stroke="#1e1e1e" stroke-width="0.85"/>
<circle cx="274.50" cy="129.40" r="2.15" fill="#fff" stroke="#1e1e1e" stroke-width="0.85"/>
<circle cx="277.40" cy="127.40" r="2.15" fill="#fff" stroke="#1e1e1e" stroke-width="0.85"/>
<circle cx="280.40" cy="125.30" r="2.15" fill="#fff" stroke="#1e1e1e" stroke-width="0.85"/>
<circle cx="283.30" cy="123.20" r="2.15" fill="#fff" stroke="#1e1e1e" stroke-width="0.85"/>
<circle cx="286.30" cy="121.10" r="2.15" fill="#fff" stroke="#1e1e1e" stroke-width="0.85"/>
<circle cx="289.20" cy="119.00" r="2.15" fill="#fff" stroke="#1e1e1e" stroke-width="0.85"/>
<circle cx="294.40" cy="116.50" r="2.15" fill="#fff" stroke="#1e1e1e" stroke-width="0.85"/>
<circle cx="300.00" cy="114.20" r="2.15" fill="#fff" stroke="#1e1e1e" stroke-width="0.85"/>
<circle cx="306.00" cy="111.40" r="2.15" fill="#fff" stroke="#1e1e1e" stroke-width="0.85"/>
<circle cx="313.20" cy="108.40" r="2.15" fill="#fff" stroke="#1e1e1e" stroke-width="0.85"/>
<circle cx="320.80" cy="106.40" r="2.15" fill="#fff" stroke="#1e1e1e" stroke-width="0.85"/>
<circle cx="330.60" cy="103.50" r="2.15" fill="#fff" stroke="#1e1e1e" stroke-width="0.85"/>
<circle cx="343.50" cy="101.60" r="2.15" fill="#fff" stroke="#1e1e1e" stroke-width="0.85"/>
<circle cx="394.90" cy="96.60" r="2.15" fill="#fff" stroke="#1e1e1e" stroke-width="0.85"/>
<path d="M262.00 134.20 L264.10 132.20 L266.00 129.90 L267.90 127.40 L269.70 124.90 L271.40 122.30 L273.00 119.80 L274.50 117.30 L275.90 114.70 L277.30 112.20 L278.80 109.30 L281.00 104.30 L284.80 97.80 L287.80 93.10 L291.10 88.00 L294.90 83.50 L298.90 79.10 L304.00 74.40 L310.70 67.70 L315.80 63.50 L323.70 58.50 L332.30 54.30 L344.50 49.30 L361.60 44.20 L394.90 38.70" fill="none" stroke="#2f3fa6" stroke-width="1.1"/>
<rect x="260.30" y="132.50" width="3.40" height="3.40" fill="#fff" stroke="#2f3fa6" stroke-width="0.85"/>
<rect x="262.40" y="130.50" width="3.40" height="3.40" fill="#fff" stroke="#2f3fa6" stroke-width="0.85"/>
<rect x="264.30" y="128.20" width="3.40" height="3.40" fill="#fff" stroke="#2f3fa6" stroke-width="0.85"/>
<rect x="266.20" y="125.70" width="3.40" height="3.40" fill="#fff" stroke="#2f3fa6" stroke-width="0.85"/>
<rect x="268.00" y="123.20" width="3.40" height="3.40" fill="#fff" stroke="#2f3fa6" stroke-width="0.85"/>
<rect x="269.70" y="120.60" width="3.40" height="3.40" fill="#fff" stroke="#2f3fa6" stroke-width="0.85"/>
<rect x="271.30" y="118.10" width="3.40" height="3.40" fill="#fff" stroke="#2f3fa6" stroke-width="0.85"/>
<rect x="272.80" y="115.60" width="3.40" height="3.40" fill="#fff" stroke="#2f3fa6" stroke-width="0.85"/>
<rect x="274.20" y="113.00" width="3.40" height="3.40" fill="#fff" stroke="#2f3fa6" stroke-width="0.85"/>
<rect x="275.60" y="110.50" width="3.40" height="3.40" fill="#fff" stroke="#2f3fa6" stroke-width="0.85"/>
<rect x="277.10" y="107.60" width="3.40" height="3.40" fill="#fff" stroke="#2f3fa6" stroke-width="0.85"/>
<rect x="279.30" y="102.60" width="3.40" height="3.40" fill="#fff" stroke="#2f3fa6" stroke-width="0.85"/>
<rect x="283.10" y="96.10" width="3.40" height="3.40" fill="#fff" stroke="#2f3fa6" stroke-width="0.85"/>
<rect x="286.10" y="91.40" width="3.40" height="3.40" fill="#fff" stroke="#2f3fa6" stroke-width="0.85"/>
<rect x="289.40" y="86.30" width="3.40" height="3.40" fill="#fff" stroke="#2f3fa6" stroke-width="0.85"/>
<rect x="293.20" y="81.80" width="3.40" height="3.40" fill="#fff" stroke="#2f3fa6" stroke-width="0.85"/>
<rect x="297.20" y="77.40" width="3.40" height="3.40" fill="#fff" stroke="#2f3fa6" stroke-width="0.85"/>
<rect x="302.30" y="72.70" width="3.40" height="3.40" fill="#fff" stroke="#2f3fa6" stroke-width="0.85"/>
<rect x="309.00" y="66.00" width="3.40" height="3.40" fill="#fff" stroke="#2f3fa6" stroke-width="0.85"/>
<rect x="314.10" y="61.80" width="3.40" height="3.40" fill="#fff" stroke="#2f3fa6" stroke-width="0.85"/>
<rect x="322.00" y="56.80" width="3.40" height="3.40" fill="#fff" stroke="#2f3fa6" stroke-width="0.85"/>
<rect x="330.60" y="52.60" width="3.40" height="3.40" fill="#fff" stroke="#2f3fa6" stroke-width="0.85"/>
<rect x="342.80" y="47.60" width="3.40" height="3.40" fill="#fff" stroke="#2f3fa6" stroke-width="0.85"/>
<rect x="359.90" y="42.50" width="3.40" height="3.40" fill="#fff" stroke="#2f3fa6" stroke-width="0.85"/>
<rect x="393.20" y="37.00" width="3.40" height="3.40" fill="#fff" stroke="#2f3fa6" stroke-width="0.85"/>
<path d="M262.00 134.20 L267.20 133.30 L271.60 131.60 L275.20 128.90 L278.20 124.60 L280.20 121.20 L282.80 118.80 L285.40 116.60 L288.00 114.60 L290.60 112.80 L293.60 110.90 L297.80 108.40 L302.10 106.20 L306.40 103.80 L310.70 101.60 L315.80 99.30 L321.50 96.60 L327.30 94.10 L334.10 91.30 L341.10 89.30 L349.20 87.00 L359.40 84.70 L394.90 77.60" fill="none" stroke="#222" stroke-width="1.1"/>
<rect x="260.20" y="132.40" width="3.60" height="3.60" fill="#e4e4e4" stroke="#111" stroke-width="0.75"/><path d="M262.00 132.40V136.00M260.20 134.20H263.80" stroke="#111" stroke-width="0.6"/>
<rect x="265.40" y="131.50" width="3.60" height="3.60" fill="#e4e4e4" stroke="#111" stroke-width="0.75"/><path d="M267.20 131.50V135.10M265.40 133.30H269.00" stroke="#111" stroke-width="0.6"/>
<rect x="269.80" y="129.80" width="3.60" height="3.60" fill="#e4e4e4" stroke="#111" stroke-width="0.75"/><path d="M271.60 129.80V133.40M269.80 131.60H273.40" stroke="#111" stroke-width="0.6"/>
<rect x="273.40" y="127.10" width="3.60" height="3.60" fill="#e4e4e4" stroke="#111" stroke-width="0.75"/><path d="M275.20 127.10V130.70M273.40 128.90H277.00" stroke="#111" stroke-width="0.6"/>
<rect x="276.40" y="122.80" width="3.60" height="3.60" fill="#e4e4e4" stroke="#111" stroke-width="0.75"/><path d="M278.20 122.80V126.40M276.40 124.60H280.00" stroke="#111" stroke-width="0.6"/>
<rect x="278.40" y="119.40" width="3.60" height="3.60" fill="#e4e4e4" stroke="#111" stroke-width="0.75"/><path d="M280.20 119.40V123.00M278.40 121.20H282.00" stroke="#111" stroke-width="0.6"/>
<rect x="281.00" y="117.00" width="3.60" height="3.60" fill="#e4e4e4" stroke="#111" stroke-width="0.75"/><path d="M282.80 117.00V120.60M281.00 118.80H284.60" stroke="#111" stroke-width="0.6"/>
<rect x="283.60" y="114.80" width="3.60" height="3.60" fill="#e4e4e4" stroke="#111" stroke-width="0.75"/><path d="M285.40 114.80V118.40M283.60 116.60H287.20" stroke="#111" stroke-width="0.6"/>
<rect x="286.20" y="112.80" width="3.60" height="3.60" fill="#e4e4e4" stroke="#111" stroke-width="0.75"/><path d="M288.00 112.80V116.40M286.20 114.60H289.80" stroke="#111" stroke-width="0.6"/>
<rect x="288.80" y="111.00" width="3.60" height="3.60" fill="#e4e4e4" stroke="#111" stroke-width="0.75"/><path d="M290.60 111.00V114.60M288.80 112.80H292.40" stroke="#111" stroke-width="0.6"/>
<rect x="291.80" y="109.10" width="3.60" height="3.60" fill="#e4e4e4" stroke="#111" stroke-width="0.75"/><path d="M293.60 109.10V112.70M291.80 110.90H295.40" stroke="#111" stroke-width="0.6"/>
<rect x="296.00" y="106.60" width="3.60" height="3.60" fill="#e4e4e4" stroke="#111" stroke-width="0.75"/><path d="M297.80 106.60V110.20M296.00 108.40H299.60" stroke="#111" stroke-width="0.6"/>
<rect x="300.30" y="104.40" width="3.60" height="3.60" fill="#e4e4e4" stroke="#111" stroke-width="0.75"/><path d="M302.10 104.40V108.00M300.30 106.20H303.90" stroke="#111" stroke-width="0.6"/>
<rect x="304.60" y="102.00" width="3.60" height="3.60" fill="#e4e4e4" stroke="#111" stroke-width="0.75"/><path d="M306.40 102.00V105.60M304.60 103.80H308.20" stroke="#111" stroke-width="0.6"/>
<rect x="308.90" y="99.80" width="3.60" height="3.60" fill="#e4e4e4" stroke="#111" stroke-width="0.75"/><path d="M310.70 99.80V103.40M308.90 101.60H312.50" stroke="#111" stroke-width="0.6"/>
<rect x="314.00" y="97.50" width="3.60" height="3.60" fill="#e4e4e4" stroke="#111" stroke-width="0.75"/><path d="M315.80 97.50V101.10M314.00 99.30H317.60" stroke="#111" stroke-width="0.6"/>
<rect x="319.70" y="94.80" width="3.60" height="3.60" fill="#e4e4e4" stroke="#111" stroke-width="0.75"/><path d="M321.50 94.80V98.40M319.70 96.60H323.30" stroke="#111" stroke-width="0.6"/>
<rect x="325.50" y="92.30" width="3.60" height="3.60" fill="#e4e4e4" stroke="#111" stroke-width="0.75"/><path d="M327.30 92.30V95.90M325.50 94.10H329.10" stroke="#111" stroke-width="0.6"/>
<rect x="332.30" y="89.50" width="3.60" height="3.60" fill="#e4e4e4" stroke="#111" stroke-width="0.75"/><path d="M334.10 89.50V93.10M332.30 91.30H335.90" stroke="#111" stroke-width="0.6"/>
<rect x="339.30" y="87.50" width="3.60" height="3.60" fill="#e4e4e4" stroke="#111" stroke-width="0.75"/><path d="M341.10 87.50V91.10M339.30 89.30H342.90" stroke="#111" stroke-width="0.6"/>
<rect x="347.40" y="85.20" width="3.60" height="3.60" fill="#e4e4e4" stroke="#111" stroke-width="0.75"/><path d="M349.20 85.20V88.80M347.40 87.00H351.00" stroke="#111" stroke-width="0.6"/>
<rect x="357.60" y="82.90" width="3.60" height="3.60" fill="#e4e4e4" stroke="#111" stroke-width="0.75"/><path d="M359.40 82.90V86.50M357.60 84.70H361.20" stroke="#111" stroke-width="0.6"/>
<rect x="393.10" y="75.80" width="3.60" height="3.60" fill="#e4e4e4" stroke="#111" stroke-width="0.75"/><path d="M394.90 75.80V79.40M393.10 77.60H396.70" stroke="#111" stroke-width="0.6"/>
<path d="M262.00 134.20 L271.80 132.60 L281.20 131.20 L288.60 129.60 L296.10 126.90 L304.70 124.30 L313.20 121.90 L323.20 118.90 L335.50 116.50 L350.10 113.50 L394.90 109.10" fill="none" stroke="#e5207a" stroke-width="1.1"/>
<rect x="260.10" y="132.30" width="3.80" height="3.80" fill="#fff" stroke="none"/><path d="M260.10 132.30L263.90 136.10M263.90 132.30L260.10 136.10" stroke="#e5207a" stroke-width="1.4"/><rect x="260.40" y="132.60" width="3.20" height="3.20" fill="none" stroke="#e5207a" stroke-width="0.7"/>
<rect x="269.90" y="130.70" width="3.80" height="3.80" fill="#fff" stroke="none"/><path d="M269.90 130.70L273.70 134.50M273.70 130.70L269.90 134.50" stroke="#e5207a" stroke-width="1.4"/><rect x="270.20" y="131.00" width="3.20" height="3.20" fill="none" stroke="#e5207a" stroke-width="0.7"/>
<rect x="279.30" y="129.30" width="3.80" height="3.80" fill="#fff" stroke="none"/><path d="M279.30 129.30L283.10 133.10M283.10 129.30L279.30 133.10" stroke="#e5207a" stroke-width="1.4"/><rect x="279.60" y="129.60" width="3.20" height="3.20" fill="none" stroke="#e5207a" stroke-width="0.7"/>
<rect x="286.70" y="127.70" width="3.80" height="3.80" fill="#fff" stroke="none"/><path d="M286.70 127.70L290.50 131.50M290.50 127.70L286.70 131.50" stroke="#e5207a" stroke-width="1.4"/><rect x="287.00" y="128.00" width="3.20" height="3.20" fill="none" stroke="#e5207a" stroke-width="0.7"/>
<rect x="294.20" y="125.00" width="3.80" height="3.80" fill="#fff" stroke="none"/><path d="M294.20 125.00L298.00 128.80M298.00 125.00L294.20 128.80" stroke="#e5207a" stroke-width="1.4"/><rect x="294.50" y="125.30" width="3.20" height="3.20" fill="none" stroke="#e5207a" stroke-width="0.7"/>
<rect x="302.80" y="122.40" width="3.80" height="3.80" fill="#fff" stroke="none"/><path d="M302.80 122.40L306.60 126.20M306.60 122.40L302.80 126.20" stroke="#e5207a" stroke-width="1.4"/><rect x="303.10" y="122.70" width="3.20" height="3.20" fill="none" stroke="#e5207a" stroke-width="0.7"/>
<rect x="311.30" y="120.00" width="3.80" height="3.80" fill="#fff" stroke="none"/><path d="M311.30 120.00L315.10 123.80M315.10 120.00L311.30 123.80" stroke="#e5207a" stroke-width="1.4"/><rect x="311.60" y="120.30" width="3.20" height="3.20" fill="none" stroke="#e5207a" stroke-width="0.7"/>
<rect x="321.30" y="117.00" width="3.80" height="3.80" fill="#fff" stroke="none"/><path d="M321.30 117.00L325.10 120.80M325.10 117.00L321.30 120.80" stroke="#e5207a" stroke-width="1.4"/><rect x="321.60" y="117.30" width="3.20" height="3.20" fill="none" stroke="#e5207a" stroke-width="0.7"/>
<rect x="333.60" y="114.60" width="3.80" height="3.80" fill="#fff" stroke="none"/><path d="M333.60 114.60L337.40 118.40M337.40 114.60L333.60 118.40" stroke="#e5207a" stroke-width="1.4"/><rect x="333.90" y="114.90" width="3.20" height="3.20" fill="none" stroke="#e5207a" stroke-width="0.7"/>
<rect x="348.20" y="111.60" width="3.80" height="3.80" fill="#fff" stroke="none"/><path d="M348.20 111.60L352.00 115.40M352.00 111.60L348.20 115.40" stroke="#e5207a" stroke-width="1.4"/><rect x="348.50" y="111.90" width="3.20" height="3.20" fill="none" stroke="#e5207a" stroke-width="0.7"/>
<rect x="393.00" y="107.20" width="3.80" height="3.80" fill="#fff" stroke="none"/><path d="M393.00 107.20L396.80 111.00M396.80 107.20L393.00 111.00" stroke="#e5207a" stroke-width="1.4"/><rect x="393.30" y="107.50" width="3.20" height="3.20" fill="none" stroke="#e5207a" stroke-width="0.7"/>
<path d="M260.9 13.6H290.2" stroke="#444" stroke-width="1.0"/>
<rect x="273.70" y="11.80" width="3.60" height="3.60" fill="#666" stroke="#111" stroke-width="0.75"/><path d="M275.50 11.80V15.40M273.70 13.60H277.30" stroke="#111" stroke-width="0.6"/>
<text x="293.20" y="15.80" font-family="Liberation Sans" font-size="7.6" fill="#000" stroke="#000" stroke-width="0.33">Liver</text>
<path d="M260.9 23.9H290.2" stroke="#a3aadc" stroke-width="1.8"/>
<rect x="273.80" y="22.20" width="3.40" height="3.40" fill="#fff" stroke="#2f3fa6" stroke-width="0.85"/>
<text x="293.20" y="26.10" font-family="Liberation Sans" font-size="7.6" fill="#1f2f94" stroke="#1f2f94" stroke-width="0.33">Lung</text>
<path d="M260.9 34.4H290.2" stroke="#111" stroke-width="1.3"/>
<circle cx="275.50" cy="34.40" r="2.15" fill="#fff" stroke="#1e1e1e" stroke-width="0.85"/>
<text x="293.20" y="36.60" font-family="Liberation Sans" font-size="7.6" fill="#000" stroke="#000" stroke-width="0.33">Spleen</text>
<path d="M260.9 44.7H290.2" stroke="#a3aadc" stroke-width="1.8"/>
<rect x="273.80" y="43.00" width="3.40" height="3.40" fill="#fff" stroke="#2f3fa6" stroke-width="0.5"/><path d="M274.05 46.65V42.75L276.95 46.65V42.75" fill="none" stroke="#2f3fa6" stroke-width="1.1"/>
<text x="293.20" y="46.90" font-family="Liberation Sans" font-size="7.6" fill="#1f2f94" stroke="#1f2f94" stroke-width="0.33">Blood</text>
<path d="M260.9 55.4H290.2" stroke="#ee4a94" stroke-width="1.0"/>
<rect x="273.60" y="53.50" width="3.80" height="3.80" fill="#fff" stroke="none"/><path d="M273.60 53.50L277.40 57.30M277.40 53.50L273.60 57.30" stroke="#e5207a" stroke-width="1.4"/><rect x="273.90" y="53.80" width="3.20" height="3.20" fill="none" stroke="#e5207a" stroke-width="0.7"/>
<text x="293.20" y="57.60" font-family="Liberation Sans" font-size="7.6" fill="#dc1472" stroke="#dc1472" stroke-width="0.33">Kidney</text>
<rect x="31.5" y="181.5" width="146.0" height="134.0" fill="none" stroke="#c6c6c6" stroke-width="1"/>
<path d="M31.5 315.40h2.6M177.5 315.40h-2.6" stroke="#c6c6c6" stroke-width="0.9"/>
<text x="29.10" y="318.50" font-family="Liberation Sans" font-size="7.7" fill="#000" stroke="#000" stroke-width="0.3" text-anchor="end" textLength="8.8" lengthAdjust="spacingAndGlyphs">20</text>
<path d="M31.5 281.90h2.6M177.5 281.90h-2.6" stroke="#c6c6c6" stroke-width="0.9"/>
<text x="29.10" y="285.00" font-family="Liberation Sans" font-size="7.7" fill="#000" stroke="#000" stroke-width="0.3" text-anchor="end" textLength="8.8" lengthAdjust="spacingAndGlyphs">25</text>
<path d="M31.5 248.40h2.6M177.5 248.40h-2.6" stroke="#c6c6c6" stroke-width="0.9"/>
<text x="29.10" y="251.50" font-family="Liberation Sans" font-size="7.7" fill="#000" stroke="#000" stroke-width="0.3" text-anchor="end" textLength="8.8" lengthAdjust="spacingAndGlyphs">30</text>
<path d="M31.5 214.90h2.6M177.5 214.90h-2.6" stroke="#c6c6c6" stroke-width="0.9"/>
<text x="29.10" y="218.00" font-family="Liberation Sans" font-size="7.7" fill="#000" stroke="#000" stroke-width="0.3" text-anchor="end" textLength="8.8" lengthAdjust="spacingAndGlyphs">35</text>
<path d="M31.5 181.40h2.6M177.5 181.40h-2.6" stroke="#c6c6c6" stroke-width="0.9"/>
<text x="29.10" y="184.50" font-family="Liberation Sans" font-size="7.7" fill="#000" stroke="#000" stroke-width="0.3" text-anchor="end" textLength="8.8" lengthAdjust="spacingAndGlyphs">40</text>
<path d="M37.20 315.5v-2.6M37.20 181.5v2.6" stroke="#c6c6c6" stroke-width="0.9"/>
<text x="37.20" y="324.70" font-family="Liberation Sans" font-size="7.7" fill="#000" stroke="#000" stroke-width="0.3" text-anchor="middle" textLength="4.4" lengthAdjust="spacingAndGlyphs">0</text>
<path d="M71.00 315.5v-2.6M71.00 181.5v2.6" stroke="#c6c6c6" stroke-width="0.9"/>
<text x="71.00" y="324.70" font-family="Liberation Sans" font-size="7.7" fill="#000" stroke="#000" stroke-width="0.3" text-anchor="middle" textLength="13.200000000000001" lengthAdjust="spacingAndGlyphs">300</text>
<path d="M104.80 315.5v-2.6M104.80 181.5v2.6" stroke="#c6c6c6" stroke-width="0.9"/>
<text x="104.80" y="324.70" font-family="Liberation Sans" font-size="7.7" fill="#000" stroke="#000" stroke-width="0.3" text-anchor="middle" textLength="13.200000000000001" lengthAdjust="spacingAndGlyphs">600</text>
<path d="M138.60 315.5v-2.6M138.60 181.5v2.6" stroke="#c6c6c6" stroke-width="0.9"/>
<text x="138.60" y="324.70" font-family="Liberation Sans" font-size="7.7" fill="#000" stroke="#000" stroke-width="0.3" text-anchor="middle" textLength="13.200000000000001" lengthAdjust="spacingAndGlyphs">900</text>
<path d="M172.40 315.5v-2.6M172.40 181.5v2.6" stroke="#c6c6c6" stroke-width="0.9"/>
<text x="172.40" y="324.70" font-family="Liberation Sans" font-size="7.7" fill="#000" stroke="#000" stroke-width="0.3" text-anchor="middle" textLength="17.6" lengthAdjust="spacingAndGlyphs">1200</text>
<text x="104.70" y="333.30" font-family="Liberation Sans" font-size="7.3" fill="#000" stroke="#000" stroke-width="0.33" text-anchor="middle" textLength="13.1" lengthAdjust="spacingAndGlyphs">t (s)</text>
<text x="105.85" y="350.80" font-family="Liberation Serif" font-size="11.3" fill="#000" stroke="#000" stroke-width="0.33" text-anchor="middle" textLength="12.7" lengthAdjust="spacingAndGlyphs" font-weight="bold">(c)</text>
<text transform="translate(11.9 241.15) rotate(-90)" font-family="Liberation Sans" font-size="7.8" stroke="#000" stroke-width="0.3" text-anchor="middle" textLength="21.1" lengthAdjust="spacingAndGlyphs">T (°C)</text>
<text x="122.80" y="193.30" font-family="Liberation Sans" font-size="7.7" fill="#000" stroke="#000" stroke-width="0.33" textLength="46.2" lengthAdjust="spacingAndGlyphs">H-v2Cop2-24</text>
<path d="M37.20 302.00 L45.80 295.30 L52.50 288.60 L58.60 281.90 L64.50 275.20 L70.20 268.50 L76.20 261.80 L83.20 255.10 L89.70 248.40 L99.30 241.70 L108.40 235.00 L118.10 228.30 L172.00 209.67" fill="none" stroke="#444" stroke-width="1.1"/>
<rect x="35.40" y="300.20" width="3.60" height="3.60" fill="#e4e4e4" stroke="#555" stroke-width="0.75"/><path d="M37.20 300.20V303.80M35.40 302.00H39.00" stroke="#555" stroke-width="0.6"/>
<rect x="44.00" y="293.50" width="3.60" height="3.60" fill="#e4e4e4" stroke="#555" stroke-width="0.75"/><path d="M45.80 293.50V297.10M44.00 295.30H47.60" stroke="#555" stroke-width="0.6"/>
<rect x="50.70" y="286.80" width="3.60" height="3.60" fill="#e4e4e4" stroke="#555" stroke-width="0.75"/><path d="M52.50 286.80V290.40M50.70 288.60H54.30" stroke="#555" stroke-width="0.6"/>
<rect x="56.80" y="280.10" width="3.60" height="3.60" fill="#e4e4e4" stroke="#555" stroke-width="0.75"/><path d="M58.60 280.10V283.70M56.80 281.90H60.40" stroke="#555" stroke-width="0.6"/>
<rect x="62.70" y="273.40" width="3.60" height="3.60" fill="#e4e4e4" stroke="#555" stroke-width="0.75"/><path d="M64.50 273.40V277.00M62.70 275.20H66.30" stroke="#555" stroke-width="0.6"/>
<rect x="68.40" y="266.70" width="3.60" height="3.60" fill="#e4e4e4" stroke="#555" stroke-width="0.75"/><path d="M70.20 266.70V270.30M68.40 268.50H72.00" stroke="#555" stroke-width="0.6"/>
<rect x="74.40" y="260.00" width="3.60" height="3.60" fill="#e4e4e4" stroke="#555" stroke-width="0.75"/><path d="M76.20 260.00V263.60M74.40 261.80H78.00" stroke="#555" stroke-width="0.6"/>
<rect x="81.40" y="253.30" width="3.60" height="3.60" fill="#e4e4e4" stroke="#555" stroke-width="0.75"/><path d="M83.20 253.30V256.90M81.40 255.10H85.00" stroke="#555" stroke-width="0.6"/>
<rect x="87.90" y="246.60" width="3.60" height="3.60" fill="#e4e4e4" stroke="#555" stroke-width="0.75"/><path d="M89.70 246.60V250.20M87.90 248.40H91.50" stroke="#555" stroke-width="0.6"/>
<rect x="97.50" y="239.90" width="3.60" height="3.60" fill="#e4e4e4" stroke="#555" stroke-width="0.75"/><path d="M99.30 239.90V243.50M97.50 241.70H101.10" stroke="#555" stroke-width="0.6"/>
<rect x="106.60" y="233.20" width="3.60" height="3.60" fill="#e4e4e4" stroke="#555" stroke-width="0.75"/><path d="M108.40 233.20V236.80M106.60 235.00H110.20" stroke="#555" stroke-width="0.6"/>
<rect x="116.30" y="226.50" width="3.60" height="3.60" fill="#e4e4e4" stroke="#555" stroke-width="0.75"/><path d="M118.10 226.50V230.10M116.30 228.30H119.90" stroke="#555" stroke-width="0.6"/>
<rect x="170.20" y="207.87" width="3.60" height="3.60" fill="#e4e4e4" stroke="#555" stroke-width="0.75"/><path d="M172.00 207.87V211.47M170.20 209.67H173.80" stroke="#555" stroke-width="0.6"/>
<path d="M37.20 302.00 L50.00 295.30 L56.00 288.60 L62.00 281.90 L69.50 275.20 L76.60 268.50 L83.50 261.80 L92.20 255.10 L100.80 248.40 L112.20 241.70 L126.70 235.00 L172.00 220.80" fill="none" stroke="#2f3fa6" stroke-width="1.1"/>
<rect x="35.50" y="300.30" width="3.40" height="3.40" fill="#fff" stroke="#2f3fa6" stroke-width="0.5"/><path d="M35.75 303.95V300.05L38.65 303.95V300.05" fill="none" stroke="#2f3fa6" stroke-width="1.1"/>
<rect x="48.30" y="293.60" width="3.40" height="3.40" fill="#fff" stroke="#2f3fa6" stroke-width="0.5"/><path d="M48.55 297.25V293.35L51.45 297.25V293.35" fill="none" stroke="#2f3fa6" stroke-width="1.1"/>
<rect x="54.30" y="286.90" width="3.40" height="3.40" fill="#fff" stroke="#2f3fa6" stroke-width="0.5"/><path d="M54.55 290.55V286.65L57.45 290.55V286.65" fill="none" stroke="#2f3fa6" stroke-width="1.1"/>
<rect x="60.30" y="280.20" width="3.40" height="3.40" fill="#fff" stroke="#2f3fa6" stroke-width="0.5"/><path d="M60.55 283.85V279.95L63.45 283.85V279.95" fill="none" stroke="#2f3fa6" stroke-width="1.1"/>
<rect x="67.80" y="273.50" width="3.40" height="3.40" fill="#fff" stroke="#2f3fa6" stroke-width="0.5"/><path d="M68.05 277.15V273.25L70.95 277.15V273.25" fill="none" stroke="#2f3fa6" stroke-width="1.1"/>
<rect x="74.90" y="266.80" width="3.40" height="3.40" fill="#fff" stroke="#2f3fa6" stroke-width="0.5"/><path d="M75.15 270.45V266.55L78.05 270.45V266.55" fill="none" stroke="#2f3fa6" stroke-width="1.1"/>
<rect x="81.80" y="260.10" width="3.40" height="3.40" fill="#fff" stroke="#2f3fa6" stroke-width="0.5"/><path d="M82.05 263.75V259.85L84.95 263.75V259.85" fill="none" stroke="#2f3fa6" stroke-width="1.1"/>
<rect x="90.50" y="253.40" width="3.40" height="3.40" fill="#fff" stroke="#2f3fa6" stroke-width="0.5"/><path d="M90.75 257.05V253.15L93.65 257.05V253.15" fill="none" stroke="#2f3fa6" stroke-width="1.1"/>
<rect x="99.10" y="246.70" width="3.40" height="3.40" fill="#fff" stroke="#2f3fa6" stroke-width="0.5"/><path d="M99.35 250.35V246.45L102.25 250.35V246.45" fill="none" stroke="#2f3fa6" stroke-width="1.1"/>
<rect x="110.50" y="240.00" width="3.40" height="3.40" fill="#fff" stroke="#2f3fa6" stroke-width="0.5"/><path d="M110.75 243.65V239.75L113.65 243.65V239.75" fill="none" stroke="#2f3fa6" stroke-width="1.1"/>
<rect x="125.00" y="233.30" width="3.40" height="3.40" fill="#fff" stroke="#2f3fa6" stroke-width="0.5"/><path d="M125.25 236.95V233.05L128.15 236.95V233.05" fill="none" stroke="#2f3fa6" stroke-width="1.1"/>
<rect x="170.30" y="219.10" width="3.40" height="3.40" fill="#fff" stroke="#2f3fa6" stroke-width="0.5"/><path d="M170.55 222.75V218.85L173.45 222.75V218.85" fill="none" stroke="#2f3fa6" stroke-width="1.1"/>
<path d="M37.20 302.00 L44.70 295.30 L50.80 288.60 L56.30 281.90 L61.80 275.20 L67.40 268.50 L73.00 261.80 L79.00 255.10 L85.00 248.40 L91.30 241.70 L99.30 235.00 L109.50 228.30 L120.60 221.60 L172.00 207.13" fill="none" stroke="#2f3fa6" stroke-width="1.1"/>
<rect x="35.50" y="300.30" width="3.40" height="3.40" fill="#fff" stroke="#2f3fa6" stroke-width="0.85"/>
<rect x="43.00" y="293.60" width="3.40" height="3.40" fill="#fff" stroke="#2f3fa6" stroke-width="0.85"/>
<rect x="49.10" y="286.90" width="3.40" height="3.40" fill="#fff" stroke="#2f3fa6" stroke-width="0.85"/>
<rect x="54.60" y="280.20" width="3.40" height="3.40" fill="#fff" stroke="#2f3fa6" stroke-width="0.85"/>
<rect x="60.10" y="273.50" width="3.40" height="3.40" fill="#fff" stroke="#2f3fa6" stroke-width="0.85"/>
<rect x="65.70" y="266.80" width="3.40" height="3.40" fill="#fff" stroke="#2f3fa6" stroke-width="0.85"/>
<rect x="71.30" y="260.10" width="3.40" height="3.40" fill="#fff" stroke="#2f3fa6" stroke-width="0.85"/>
<rect x="77.30" y="253.40" width="3.40" height="3.40" fill="#fff" stroke="#2f3fa6" stroke-width="0.85"/>
<rect x="83.30" y="246.70" width="3.40" height="3.40" fill="#fff" stroke="#2f3fa6" stroke-width="0.85"/>
<rect x="89.60" y="240.00" width="3.40" height="3.40" fill="#fff" stroke="#2f3fa6" stroke-width="0.85"/>
<rect x="97.60" y="233.30" width="3.40" height="3.40" fill="#fff" stroke="#2f3fa6" stroke-width="0.85"/>
<rect x="107.80" y="226.60" width="3.40" height="3.40" fill="#fff" stroke="#2f3fa6" stroke-width="0.85"/>
<rect x="118.90" y="219.90" width="3.40" height="3.40" fill="#fff" stroke="#2f3fa6" stroke-width="0.85"/>
<rect x="170.30" y="205.43" width="3.40" height="3.40" fill="#fff" stroke="#2f3fa6" stroke-width="0.85"/>
<path d="M37.20 302.00 L43.50 295.30 L49.20 288.60 L54.30 281.90 L59.20 275.20 L64.20 268.50 L69.40 261.80 L74.30 255.10 L80.30 248.40 L87.10 241.70 L94.60 235.00 L104.00 228.30 L114.20 221.60 L128.40 214.90 L172.00 203.31" fill="none" stroke="#222" stroke-width="1.1"/>
<circle cx="37.20" cy="302.00" r="2.15" fill="#fff" stroke="#1e1e1e" stroke-width="0.85"/>
<circle cx="43.50" cy="295.30" r="2.15" fill="#fff" stroke="#1e1e1e" stroke-width="0.85"/>
<circle cx="49.20" cy="288.60" r="2.15" fill="#fff" stroke="#1e1e1e" stroke-width="0.85"/>
<circle cx="54.30" cy="281.90" r="2.15" fill="#fff" stroke="#1e1e1e" stroke-width="0.85"/>
<circle cx="59.20" cy="275.20" r="2.15" fill="#fff" stroke="#1e1e1e" stroke-width="0.85"/>
<circle cx="64.20" cy="268.50" r="2.15" fill="#fff" stroke="#1e1e1e" stroke-width="0.85"/>
<circle cx="69.40" cy="261.80" r="2.15" fill="#fff" stroke="#1e1e1e" stroke-width="0.85"/>
<circle cx="74.30" cy="255.10" r="2.15" fill="#fff" stroke="#1e1e1e" stroke-width="0.85"/>
<circle cx="80.30" cy="248.40" r="2.15" fill="#fff" stroke="#1e1e1e" stroke-width="0.85"/>
<circle cx="87.10" cy="241.70" r="2.15" fill="#fff" stroke="#1e1e1e" stroke-width="0.85"/>
<circle cx="94.60" cy="235.00" r="2.15" fill="#fff" stroke="#1e1e1e" stroke-width="0.85"/>
<circle cx="104.00" cy="228.30" r="2.15" fill="#fff" stroke="#1e1e1e" stroke-width="0.85"/>
<circle cx="114.20" cy="221.60" r="2.15" fill="#fff" stroke="#1e1e1e" stroke-width="0.85"/>
<circle cx="128.40" cy="214.90" r="2.15" fill="#fff" stroke="#1e1e1e" stroke-width="0.85"/>
<circle cx="172.00" cy="203.31" r="2.15" fill="#fff" stroke="#1e1e1e" stroke-width="0.85"/>
<path d="M37.20 302.00 L45.00 295.30 L51.70 288.60 L57.70 281.90 L63.60 275.20 L69.30 268.50 L75.40 261.80 L82.40 255.10 L88.30 248.40 L95.70 241.70 L104.60 235.00 L113.70 228.30 L124.40 221.60 L172.00 205.52" fill="none" stroke="#e5207a" stroke-width="1.1"/>
<rect x="35.30" y="300.10" width="3.80" height="3.80" fill="#fff" stroke="none"/><path d="M35.30 300.10L39.10 303.90M39.10 300.10L35.30 303.90" stroke="#e5207a" stroke-width="1.4"/><rect x="35.60" y="300.40" width="3.20" height="3.20" fill="none" stroke="#e5207a" stroke-width="0.7"/>
<rect x="43.10" y="293.40" width="3.80" height="3.80" fill="#fff" stroke="none"/><path d="M43.10 293.40L46.90 297.20M46.90 293.40L43.10 297.20" stroke="#e5207a" stroke-width="1.4"/><rect x="43.40" y="293.70" width="3.20" height="3.20" fill="none" stroke="#e5207a" stroke-width="0.7"/>
<rect x="49.80" y="286.70" width="3.80" height="3.80" fill="#fff" stroke="none"/><path d="M49.80 286.70L53.60 290.50M53.60 286.70L49.80 290.50" stroke="#e5207a" stroke-width="1.4"/><rect x="50.10" y="287.00" width="3.20" height="3.20" fill="none" stroke="#e5207a" stroke-width="0.7"/>
<rect x="55.80" y="280.00" width="3.80" height="3.80" fill="#fff" stroke="none"/><path d="M55.80 280.00L59.60 283.80M59.60 280.00L55.80 283.80" stroke="#e5207a" stroke-width="1.4"/><rect x="56.10" y="280.30" width="3.20" height="3.20" fill="none" stroke="#e5207a" stroke-width="0.7"/>
<rect x="61.70" y="273.30" width="3.80" height="3.80" fill="#fff" stroke="none"/><path d="M61.70 273.30L65.50 277.10M65.50 273.30L61.70 277.10" stroke="#e5207a" stroke-width="1.4"/><rect x="62.00" y="273.60" width="3.20" height="3.20" fill="none" stroke="#e5207a" stroke-width="0.7"/>
<rect x="67.40" y="266.60" width="3.80" height="3.80" fill="#fff" stroke="none"/><path d="M67.40 266.60L71.20 270.40M71.20 266.60L67.40 270.40" stroke="#e5207a" stroke-width="1.4"/><rect x="67.70" y="266.90" width="3.20" height="3.20" fill="none" stroke="#e5207a" stroke-width="0.7"/>
<rect x="73.50" y="259.90" width="3.80" height="3.80" fill="#fff" stroke="none"/><path d="M73.50 259.90L77.30 263.70M77.30 259.90L73.50 263.70" stroke="#e5207a" stroke-width="1.4"/><rect x="73.80" y="260.20" width="3.20" height="3.20" fill="none" stroke="#e5207a" stroke-width="0.7"/>
<rect x="80.50" y="253.20" width="3.80" height="3.80" fill="#fff" stroke="none"/><path d="M80.50 253.20L84.30 257.00M84.30 253.20L80.50 257.00" stroke="#e5207a" stroke-width="1.4"/><rect x="80.80" y="253.50" width="3.20" height="3.20" fill="none" stroke="#e5207a" stroke-width="0.7"/>
<rect x="86.40" y="246.50" width="3.80" height="3.80" fill="#fff" stroke="none"/><path d="M86.40 246.50L90.20 250.30M90.20 246.50L86.40 250.30" stroke="#e5207a" stroke-width="1.4"/><rect x="86.70" y="246.80" width="3.20" height="3.20" fill="none" stroke="#e5207a" stroke-width="0.7"/>
<rect x="93.80" y="239.80" width="3.80" height="3.80" fill="#fff" stroke="none"/><path d="M93.80 239.80L97.60 243.60M97.60 239.80L93.80 243.60" stroke="#e5207a" stroke-width="1.4"/><rect x="94.10" y="240.10" width="3.20" height="3.20" fill="none" stroke="#e5207a" stroke-width="0.7"/>
<rect x="102.70" y="233.10" width="3.80" height="3.80" fill="#fff" stroke="none"/><path d="M102.70 233.10L106.50 236.90M106.50 233.10L102.70 236.90" stroke="#e5207a" stroke-width="1.4"/><rect x="103.00" y="233.40" width="3.20" height="3.20" fill="none" stroke="#e5207a" stroke-width="0.7"/>
<rect x="111.80" y="226.40" width="3.80" height="3.80" fill="#fff" stroke="none"/><path d="M111.80 226.40L115.60 230.20M115.60 226.40L111.80 230.20" stroke="#e5207a" stroke-width="1.4"/><rect x="112.10" y="226.70" width="3.20" height="3.20" fill="none" stroke="#e5207a" stroke-width="0.7"/>
<rect x="122.50" y="219.70" width="3.80" height="3.80" fill="#fff" stroke="none"/><path d="M122.50 219.70L126.30 223.50M126.30 219.70L122.50 223.50" stroke="#e5207a" stroke-width="1.4"/><rect x="122.80" y="220.00" width="3.20" height="3.20" fill="none" stroke="#e5207a" stroke-width="0.7"/>
<rect x="170.10" y="203.62" width="3.80" height="3.80" fill="#fff" stroke="none"/><path d="M170.10 203.62L173.90 207.42M173.90 203.62L170.10 207.42" stroke="#e5207a" stroke-width="1.4"/><rect x="170.40" y="203.92" width="3.20" height="3.20" fill="none" stroke="#e5207a" stroke-width="0.7"/>
<path d="M34.8 188.3H64.2" stroke="#333" stroke-width="1.0"/>
<rect x="47.60" y="186.50" width="3.60" height="3.60" fill="#e4e4e4" stroke="#111" stroke-width="0.75"/><path d="M49.40 186.50V190.10M47.60 188.30H51.20" stroke="#111" stroke-width="0.6"/>
<text x="68.20" y="190.50" font-family="Liberation Sans" font-size="7.8" fill="#3c3c3c" stroke="#3c3c3c" stroke-width="0.33">Liver</text>
<path d="M34.8 199.75H64.2" stroke="#9ea6d8" stroke-width="1.0"/>
<rect x="47.70" y="198.05" width="3.40" height="3.40" fill="#fff" stroke="#2f3fa6" stroke-width="0.85"/>
<text x="68.20" y="201.95" font-family="Liberation Sans" font-size="7.8" fill="#1f2f94" stroke="#1f2f94" stroke-width="0.33">Lung</text>
<path d="M34.8 211H64.2" stroke="#999" stroke-width="1.7"/>
<circle cx="49.40" cy="211.00" r="2.15" fill="#fff" stroke="#1e1e1e" stroke-width="0.85"/>
<text x="68.20" y="213.20" font-family="Liberation Sans" font-size="7.8" fill="#000" stroke="#000" stroke-width="0.33">Spleen</text>
<path d="M34.8 221.9H64.2" stroke="#9ea6d8" stroke-width="1.0"/>
<rect x="47.70" y="220.20" width="3.40" height="3.40" fill="#fff" stroke="#2f3fa6" stroke-width="0.5"/><path d="M47.95 223.85V219.95L50.85 223.85V219.95" fill="none" stroke="#2f3fa6" stroke-width="1.1"/>
<text x="68.20" y="224.10" font-family="Liberation Sans" font-size="7.8" fill="#1f2f94" stroke="#1f2f94" stroke-width="0.33">Blood</text>
<path d="M34.8 233.2H64.2" stroke="#ea3f8c" stroke-width="1.0"/>
<rect x="47.50" y="231.30" width="3.80" height="3.80" fill="#fff" stroke="none"/><path d="M47.50 231.30L51.30 235.10M51.30 231.30L47.50 235.10" stroke="#e5207a" stroke-width="1.4"/><rect x="47.80" y="231.60" width="3.20" height="3.20" fill="none" stroke="#e5207a" stroke-width="0.7"/>
<text x="68.20" y="235.40" font-family="Liberation Sans" font-size="7.8" fill="#dc1472" stroke="#dc1472" stroke-width="0.33">Kidney</text>
<rect x="255.5" y="182.5" width="144.0" height="132.0" fill="none" stroke="#c6c6c6" stroke-width="1"/>
<path d="M255.5 314.20h2.6M399.5 314.20h-2.6" stroke="#c6c6c6" stroke-width="0.9"/>
<text x="253.40" y="316.60" font-family="Liberation Sans" font-size="7.5" fill="#000" stroke="#000" stroke-width="0.3" text-anchor="end" textLength="8.4" lengthAdjust="spacingAndGlyphs">20</text>
<path d="M255.5 287.82h2.6M399.5 287.82h-2.6" stroke="#c6c6c6" stroke-width="0.9"/>
<text x="253.40" y="290.22" font-family="Liberation Sans" font-size="7.5" fill="#000" stroke="#000" stroke-width="0.3" text-anchor="end" textLength="8.4" lengthAdjust="spacingAndGlyphs">25</text>
<path d="M255.5 261.44h2.6M399.5 261.44h-2.6" stroke="#c6c6c6" stroke-width="0.9"/>
<text x="253.40" y="263.84" font-family="Liberation Sans" font-size="7.5" fill="#000" stroke="#000" stroke-width="0.3" text-anchor="end" textLength="8.4" lengthAdjust="spacingAndGlyphs">30</text>
<path d="M255.5 235.06h2.6M399.5 235.06h-2.6" stroke="#c6c6c6" stroke-width="0.9"/>
<text x="253.40" y="237.46" font-family="Liberation Sans" font-size="7.5" fill="#000" stroke="#000" stroke-width="0.3" text-anchor="end" textLength="8.4" lengthAdjust="spacingAndGlyphs">35</text>
<path d="M255.5 208.68h2.6M399.5 208.68h-2.6" stroke="#c6c6c6" stroke-width="0.9"/>
<text x="253.40" y="211.08" font-family="Liberation Sans" font-size="7.5" fill="#000" stroke="#000" stroke-width="0.3" text-anchor="end" textLength="8.4" lengthAdjust="spacingAndGlyphs">40</text>
<path d="M255.5 182.30h2.6M399.5 182.30h-2.6" stroke="#c6c6c6" stroke-width="0.9"/>
<text x="253.40" y="184.70" font-family="Liberation Sans" font-size="7.5" fill="#000" stroke="#000" stroke-width="0.3" text-anchor="end" textLength="8.4" lengthAdjust="spacingAndGlyphs">45</text>
<path d="M261.50 314.5v-2.6M261.50 182.5v2.6" stroke="#c6c6c6" stroke-width="0.9"/>
<text x="261.50" y="322.90" font-family="Liberation Sans" font-size="7.5" fill="#000" stroke="#000" stroke-width="0.3" text-anchor="middle" textLength="4.2" lengthAdjust="spacingAndGlyphs">0</text>
<path d="M294.45 314.5v-2.6M294.45 182.5v2.6" stroke="#c6c6c6" stroke-width="0.9"/>
<text x="294.45" y="322.90" font-family="Liberation Sans" font-size="7.5" fill="#000" stroke="#000" stroke-width="0.3" text-anchor="middle" textLength="12.600000000000001" lengthAdjust="spacingAndGlyphs">300</text>
<path d="M327.40 314.5v-2.6M327.40 182.5v2.6" stroke="#c6c6c6" stroke-width="0.9"/>
<text x="327.40" y="322.90" font-family="Liberation Sans" font-size="7.5" fill="#000" stroke="#000" stroke-width="0.3" text-anchor="middle" textLength="12.600000000000001" lengthAdjust="spacingAndGlyphs">600</text>
<path d="M360.35 314.5v-2.6M360.35 182.5v2.6" stroke="#c6c6c6" stroke-width="0.9"/>
<text x="360.35" y="322.90" font-family="Liberation Sans" font-size="7.5" fill="#000" stroke="#000" stroke-width="0.3" text-anchor="middle" textLength="12.600000000000001" lengthAdjust="spacingAndGlyphs">900</text>
<path d="M393.30 314.5v-2.6M393.30 182.5v2.6" stroke="#c6c6c6" stroke-width="0.9"/>
<text x="393.30" y="322.90" font-family="Liberation Sans" font-size="7.5" fill="#000" stroke="#000" stroke-width="0.3" text-anchor="middle" textLength="16.8" lengthAdjust="spacingAndGlyphs">1200</text>
<text x="326.50" y="333.20" font-family="Liberation Sans" font-size="7.3" fill="#000" stroke="#000" stroke-width="0.33" text-anchor="middle" textLength="12.4" lengthAdjust="spacingAndGlyphs">t (s)</text>
<text x="328.15" y="346.70" font-family="Liberation Serif" font-size="11.3" fill="#000" stroke="#000" stroke-width="0.33" text-anchor="middle" textLength="14.3" lengthAdjust="spacingAndGlyphs" font-weight="bold">(d)</text>
<text transform="translate(236.5 245.35) rotate(-90)" font-family="Liberation Sans" font-size="7.8" stroke="#000" stroke-width="0.3" text-anchor="middle" textLength="19.7" lengthAdjust="spacingAndGlyphs">T (°C)</text>
<text x="339.50" y="192.40" font-family="Liberation Sans" font-size="7.6" fill="#000" stroke="#000" stroke-width="0.33" textLength="45.1" lengthAdjust="spacingAndGlyphs">H-v3Cop2-24</text>
<path d="M261.50 303.70 L273.00 298.60 L279.30 293.60 L285.50 288.50 L293.30 282.70 L300.10 277.40 L306.80 272.40 L314.40 267.30 L324.20 261.90 L334.40 256.80 L345.00 251.40 L393.40 239.60" fill="none" stroke="#2f3fa6" stroke-width="1.1"/>
<rect x="259.80" y="302.00" width="3.40" height="3.40" fill="#fff" stroke="#2f3fa6" stroke-width="0.5"/><path d="M260.05 305.65V301.75L262.95 305.65V301.75" fill="none" stroke="#2f3fa6" stroke-width="1.1"/>
<rect x="271.30" y="296.90" width="3.40" height="3.40" fill="#fff" stroke="#2f3fa6" stroke-width="0.5"/><path d="M271.55 300.55V296.65L274.45 300.55V296.65" fill="none" stroke="#2f3fa6" stroke-width="1.1"/>
<rect x="277.60" y="291.90" width="3.40" height="3.40" fill="#fff" stroke="#2f3fa6" stroke-width="0.5"/><path d="M277.85 295.55V291.65L280.75 295.55V291.65" fill="none" stroke="#2f3fa6" stroke-width="1.1"/>
<rect x="283.80" y="286.80" width="3.40" height="3.40" fill="#fff" stroke="#2f3fa6" stroke-width="0.5"/><path d="M284.05 290.45V286.55L286.95 290.45V286.55" fill="none" stroke="#2f3fa6" stroke-width="1.1"/>
<rect x="291.60" y="281.00" width="3.40" height="3.40" fill="#fff" stroke="#2f3fa6" stroke-width="0.5"/><path d="M291.85 284.65V280.75L294.75 284.65V280.75" fill="none" stroke="#2f3fa6" stroke-width="1.1"/>
<rect x="298.40" y="275.70" width="3.40" height="3.40" fill="#fff" stroke="#2f3fa6" stroke-width="0.5"/><path d="M298.65 279.35V275.45L301.55 279.35V275.45" fill="none" stroke="#2f3fa6" stroke-width="1.1"/>
<rect x="305.10" y="270.70" width="3.40" height="3.40" fill="#fff" stroke="#2f3fa6" stroke-width="0.5"/><path d="M305.35 274.35V270.45L308.25 274.35V270.45" fill="none" stroke="#2f3fa6" stroke-width="1.1"/>
<rect x="312.70" y="265.60" width="3.40" height="3.40" fill="#fff" stroke="#2f3fa6" stroke-width="0.5"/><path d="M312.95 269.25V265.35L315.85 269.25V265.35" fill="none" stroke="#2f3fa6" stroke-width="1.1"/>
<rect x="322.50" y="260.20" width="3.40" height="3.40" fill="#fff" stroke="#2f3fa6" stroke-width="0.5"/><path d="M322.75 263.85V259.95L325.65 263.85V259.95" fill="none" stroke="#2f3fa6" stroke-width="1.1"/>
<rect x="332.70" y="255.10" width="3.40" height="3.40" fill="#fff" stroke="#2f3fa6" stroke-width="0.5"/><path d="M332.95 258.75V254.85L335.85 258.75V254.85" fill="none" stroke="#2f3fa6" stroke-width="1.1"/>
<rect x="343.30" y="249.70" width="3.40" height="3.40" fill="#fff" stroke="#2f3fa6" stroke-width="0.5"/><path d="M343.55 253.35V249.45L346.45 253.35V249.45" fill="none" stroke="#2f3fa6" stroke-width="1.1"/>
<rect x="391.70" y="237.90" width="3.40" height="3.40" fill="#fff" stroke="#2f3fa6" stroke-width="0.5"/><path d="M391.95 241.55V237.65L394.85 241.55V237.65" fill="none" stroke="#2f3fa6" stroke-width="1.1"/>
<path d="M261.50 303.70 L267.50 298.50 L273.00 293.20 L278.50 288.00 L284.00 282.50 L290.10 277.00 L296.00 271.60 L301.90 266.10 L307.90 261.50 L315.50 256.40 L323.50 251.10 L332.50 244.90 L343.20 240.40 L359.20 235.10 L393.40 227.70" fill="none" stroke="#2f3fa6" stroke-width="1.1"/>
<rect x="259.80" y="302.00" width="3.40" height="3.40" fill="#fff" stroke="#2f3fa6" stroke-width="0.85"/>
<rect x="265.80" y="296.80" width="3.40" height="3.40" fill="#fff" stroke="#2f3fa6" stroke-width="0.85"/>
<rect x="271.30" y="291.50" width="3.40" height="3.40" fill="#fff" stroke="#2f3fa6" stroke-width="0.85"/>
<rect x="276.80" y="286.30" width="3.40" height="3.40" fill="#fff" stroke="#2f3fa6" stroke-width="0.85"/>
<rect x="282.30" y="280.80" width="3.40" height="3.40" fill="#fff" stroke="#2f3fa6" stroke-width="0.85"/>
<rect x="288.40" y="275.30" width="3.40" height="3.40" fill="#fff" stroke="#2f3fa6" stroke-width="0.85"/>
<rect x="294.30" y="269.90" width="3.40" height="3.40" fill="#fff" stroke="#2f3fa6" stroke-width="0.85"/>
<rect x="300.20" y="264.40" width="3.40" height="3.40" fill="#fff" stroke="#2f3fa6" stroke-width="0.85"/>
<rect x="306.20" y="259.80" width="3.40" height="3.40" fill="#fff" stroke="#2f3fa6" stroke-width="0.85"/>
<rect x="313.80" y="254.70" width="3.40" height="3.40" fill="#fff" stroke="#2f3fa6" stroke-width="0.85"/>
<rect x="321.80" y="249.40" width="3.40" height="3.40" fill="#fff" stroke="#2f3fa6" stroke-width="0.85"/>
<rect x="330.80" y="243.20" width="3.40" height="3.40" fill="#fff" stroke="#2f3fa6" stroke-width="0.85"/>
<rect x="341.50" y="238.70" width="3.40" height="3.40" fill="#fff" stroke="#2f3fa6" stroke-width="0.85"/>
<rect x="357.50" y="233.40" width="3.40" height="3.40" fill="#fff" stroke="#2f3fa6" stroke-width="0.85"/>
<rect x="391.70" y="226.00" width="3.40" height="3.40" fill="#fff" stroke="#2f3fa6" stroke-width="0.85"/>
<path d="M261.50 303.70 L266.50 298.40 L271.00 293.10 L274.90 287.80 L278.90 282.50 L283.40 277.30 L287.80 272.00 L292.50 266.70 L296.90 261.40 L301.90 256.20 L307.90 250.90 L314.00 245.60 L320.50 240.40 L328.50 235.10 L335.80 229.80 L348.30 224.20 L393.40 211.60" fill="none" stroke="#1a1a1a" stroke-width="1.1"/>
<rect x="259.70" y="301.90" width="3.60" height="3.60" fill="#e4e4e4" stroke="#111" stroke-width="0.75"/><path d="M261.50 301.90V305.50M259.70 303.70H263.30" stroke="#111" stroke-width="0.6"/>
<rect x="264.70" y="296.60" width="3.60" height="3.60" fill="#e4e4e4" stroke="#111" stroke-width="0.75"/><path d="M266.50 296.60V300.20M264.70 298.40H268.30" stroke="#111" stroke-width="0.6"/>
<rect x="269.20" y="291.30" width="3.60" height="3.60" fill="#e4e4e4" stroke="#111" stroke-width="0.75"/><path d="M271.00 291.30V294.90M269.20 293.10H272.80" stroke="#111" stroke-width="0.6"/>
<rect x="273.10" y="286.00" width="3.60" height="3.60" fill="#e4e4e4" stroke="#111" stroke-width="0.75"/><path d="M274.90 286.00V289.60M273.10 287.80H276.70" stroke="#111" stroke-width="0.6"/>
<rect x="277.10" y="280.70" width="3.60" height="3.60" fill="#e4e4e4" stroke="#111" stroke-width="0.75"/><path d="M278.90 280.70V284.30M277.10 282.50H280.70" stroke="#111" stroke-width="0.6"/>
<rect x="281.60" y="275.50" width="3.60" height="3.60" fill="#e4e4e4" stroke="#111" stroke-width="0.75"/><path d="M283.40 275.50V279.10M281.60 277.30H285.20" stroke="#111" stroke-width="0.6"/>
<rect x="286.00" y="270.20" width="3.60" height="3.60" fill="#e4e4e4" stroke="#111" stroke-width="0.75"/><path d="M287.80 270.20V273.80M286.00 272.00H289.60" stroke="#111" stroke-width="0.6"/>
<rect x="290.70" y="264.90" width="3.60" height="3.60" fill="#e4e4e4" stroke="#111" stroke-width="0.75"/><path d="M292.50 264.90V268.50M290.70 266.70H294.30" stroke="#111" stroke-width="0.6"/>
<rect x="295.10" y="259.60" width="3.60" height="3.60" fill="#e4e4e4" stroke="#111" stroke-width="0.75"/><path d="M296.90 259.60V263.20M295.10 261.40H298.70" stroke="#111" stroke-width="0.6"/>
<rect x="300.10" y="254.40" width="3.60" height="3.60" fill="#e4e4e4" stroke="#111" stroke-width="0.75"/><path d="M301.90 254.40V258.00M300.10 256.20H303.70" stroke="#111" stroke-width="0.6"/>
<rect x="306.10" y="249.10" width="3.60" height="3.60" fill="#e4e4e4" stroke="#111" stroke-width="0.75"/><path d="M307.90 249.10V252.70M306.10 250.90H309.70" stroke="#111" stroke-width="0.6"/>
<rect x="312.20" y="243.80" width="3.60" height="3.60" fill="#e4e4e4" stroke="#111" stroke-width="0.75"/><path d="M314.00 243.80V247.40M312.20 245.60H315.80" stroke="#111" stroke-width="0.6"/>
<rect x="318.70" y="238.60" width="3.60" height="3.60" fill="#e4e4e4" stroke="#111" stroke-width="0.75"/><path d="M320.50 238.60V242.20M318.70 240.40H322.30" stroke="#111" stroke-width="0.6"/>
<rect x="326.70" y="233.30" width="3.60" height="3.60" fill="#e4e4e4" stroke="#111" stroke-width="0.75"/><path d="M328.50 233.30V236.90M326.70 235.10H330.30" stroke="#111" stroke-width="0.6"/>
<rect x="334.00" y="228.00" width="3.60" height="3.60" fill="#e4e4e4" stroke="#111" stroke-width="0.75"/><path d="M335.80 228.00V231.60M334.00 229.80H337.60" stroke="#111" stroke-width="0.6"/>
<rect x="346.50" y="222.40" width="3.60" height="3.60" fill="#e4e4e4" stroke="#111" stroke-width="0.75"/><path d="M348.30 222.40V226.00M346.50 224.20H350.10" stroke="#111" stroke-width="0.6"/>
<rect x="391.60" y="209.80" width="3.60" height="3.60" fill="#e4e4e4" stroke="#111" stroke-width="0.75"/><path d="M393.40 209.80V213.40M391.60 211.60H395.20" stroke="#111" stroke-width="0.6"/>
<path d="M261.50 303.70 L268.80 298.40 L274.30 293.10 L279.00 287.80 L283.40 282.50 L288.20 277.30 L292.80 272.00 L297.20 266.70 L302.00 261.40 L307.50 256.20 L313.00 250.90 L318.40 245.00 L326.30 239.20 L334.70 234.20 L348.20 229.60 L393.40 219.20" fill="none" stroke="#222" stroke-width="1.1"/>
<circle cx="261.50" cy="303.70" r="2.15" fill="#fff" stroke="#1e1e1e" stroke-width="0.85"/>
<circle cx="268.80" cy="298.40" r="2.15" fill="#fff" stroke="#1e1e1e" stroke-width="0.85"/>
<circle cx="274.30" cy="293.10" r="2.15" fill="#fff" stroke="#1e1e1e" stroke-width="0.85"/>
<circle cx="279.00" cy="287.80" r="2.15" fill="#fff" stroke="#1e1e1e" stroke-width="0.85"/>
<circle cx="283.40" cy="282.50" r="2.15" fill="#fff" stroke="#1e1e1e" stroke-width="0.85"/>
<circle cx="288.20" cy="277.30" r="2.15" fill="#fff" stroke="#1e1e1e" stroke-width="0.85"/>
<circle cx="292.80" cy="272.00" r="2.15" fill="#fff" stroke="#1e1e1e" stroke-width="0.85"/>
<circle cx="297.20" cy="266.70" r="2.15" fill="#fff" stroke="#1e1e1e" stroke-width="0.85"/>
<circle cx="302.00" cy="261.40" r="2.15" fill="#fff" stroke="#1e1e1e" stroke-width="0.85"/>
<circle cx="307.50" cy="256.20" r="2.15" fill="#fff" stroke="#1e1e1e" stroke-width="0.85"/>
<circle cx="313.00" cy="250.90" r="2.15" fill="#fff" stroke="#1e1e1e" stroke-width="0.85"/>
<circle cx="318.40" cy="245.00" r="2.15" fill="#fff" stroke="#1e1e1e" stroke-width="0.85"/>
<circle cx="326.30" cy="239.20" r="2.15" fill="#fff" stroke="#1e1e1e" stroke-width="0.85"/>
<circle cx="334.70" cy="234.20" r="2.15" fill="#fff" stroke="#1e1e1e" stroke-width="0.85"/>
<circle cx="348.20" cy="229.60" r="2.15" fill="#fff" stroke="#1e1e1e" stroke-width="0.85"/>
<circle cx="393.40" cy="219.20" r="2.15" fill="#fff" stroke="#1e1e1e" stroke-width="0.85"/>
<path d="M261.50 303.70 L271.50 298.20 L277.80 293.20 L284.00 288.10 L291.80 282.30 L298.60 277.00 L305.30 272.00 L312.90 266.90 L322.70 261.50 L332.90 256.40 L343.50 251.00 L393.40 239.60" fill="none" stroke="#e5207a" stroke-width="1.1"/>
<rect x="259.60" y="301.80" width="3.80" height="3.80" fill="#fff" stroke="none"/><path d="M259.60 301.80L263.40 305.60M263.40 301.80L259.60 305.60" stroke="#e5207a" stroke-width="1.4"/><rect x="259.90" y="302.10" width="3.20" height="3.20" fill="none" stroke="#e5207a" stroke-width="0.7"/>
<rect x="269.60" y="296.30" width="3.80" height="3.80" fill="#fff" stroke="none"/><path d="M269.60 296.30L273.40 300.10M273.40 296.30L269.60 300.10" stroke="#e5207a" stroke-width="1.4"/><rect x="269.90" y="296.60" width="3.20" height="3.20" fill="none" stroke="#e5207a" stroke-width="0.7"/>
<rect x="275.90" y="291.30" width="3.80" height="3.80" fill="#fff" stroke="none"/><path d="M275.90 291.30L279.70 295.10M279.70 291.30L275.90 295.10" stroke="#e5207a" stroke-width="1.4"/><rect x="276.20" y="291.60" width="3.20" height="3.20" fill="none" stroke="#e5207a" stroke-width="0.7"/>
<rect x="282.10" y="286.20" width="3.80" height="3.80" fill="#fff" stroke="none"/><path d="M282.10 286.20L285.90 290.00M285.90 286.20L282.10 290.00" stroke="#e5207a" stroke-width="1.4"/><rect x="282.40" y="286.50" width="3.20" height="3.20" fill="none" stroke="#e5207a" stroke-width="0.7"/>
<rect x="289.90" y="280.40" width="3.80" height="3.80" fill="#fff" stroke="none"/><path d="M289.90 280.40L293.70 284.20M293.70 280.40L289.90 284.20" stroke="#e5207a" stroke-width="1.4"/><rect x="290.20" y="280.70" width="3.20" height="3.20" fill="none" stroke="#e5207a" stroke-width="0.7"/>
<rect x="296.70" y="275.10" width="3.80" height="3.80" fill="#fff" stroke="none"/><path d="M296.70 275.10L300.50 278.90M300.50 275.10L296.70 278.90" stroke="#e5207a" stroke-width="1.4"/><rect x="297.00" y="275.40" width="3.20" height="3.20" fill="none" stroke="#e5207a" stroke-width="0.7"/>
<rect x="303.40" y="270.10" width="3.80" height="3.80" fill="#fff" stroke="none"/><path d="M303.40 270.10L307.20 273.90M307.20 270.10L303.40 273.90" stroke="#e5207a" stroke-width="1.4"/><rect x="303.70" y="270.40" width="3.20" height="3.20" fill="none" stroke="#e5207a" stroke-width="0.7"/>
<rect x="311.00" y="265.00" width="3.80" height="3.80" fill="#fff" stroke="none"/><path d="M311.00 265.00L314.80 268.80M314.80 265.00L311.00 268.80" stroke="#e5207a" stroke-width="1.4"/><rect x="311.30" y="265.30" width="3.20" height="3.20" fill="none" stroke="#e5207a" stroke-width="0.7"/>
<rect x="320.80" y="259.60" width="3.80" height="3.80" fill="#fff" stroke="none"/><path d="M320.80 259.60L324.60 263.40M324.60 259.60L320.80 263.40" stroke="#e5207a" stroke-width="1.4"/><rect x="321.10" y="259.90" width="3.20" height="3.20" fill="none" stroke="#e5207a" stroke-width="0.7"/>
<rect x="331.00" y="254.50" width="3.80" height="3.80" fill="#fff" stroke="none"/><path d="M331.00 254.50L334.80 258.30M334.80 254.50L331.00 258.30" stroke="#e5207a" stroke-width="1.4"/><rect x="331.30" y="254.80" width="3.20" height="3.20" fill="none" stroke="#e5207a" stroke-width="0.7"/>
<rect x="341.60" y="249.10" width="3.80" height="3.80" fill="#fff" stroke="none"/><path d="M341.60 249.10L345.40 252.90M345.40 249.10L341.60 252.90" stroke="#e5207a" stroke-width="1.4"/><rect x="341.90" y="249.40" width="3.20" height="3.20" fill="none" stroke="#e5207a" stroke-width="0.7"/>
<rect x="391.50" y="237.70" width="3.80" height="3.80" fill="#fff" stroke="none"/><path d="M391.50 237.70L395.30 241.50M395.30 237.70L391.50 241.50" stroke="#e5207a" stroke-width="1.4"/><rect x="391.80" y="238.00" width="3.20" height="3.20" fill="none" stroke="#e5207a" stroke-width="0.7"/>
<path d="M263.5 190.6H292.2" stroke="#8a8a8a" stroke-width="1.3"/>
<rect x="276.00" y="188.80" width="3.60" height="3.60" fill="#444" stroke="#111" stroke-width="0.75"/><path d="M277.80 188.80V192.40M276.00 190.60H279.60" stroke="#111" stroke-width="0.6"/>
<text x="295.20" y="192.80" font-family="Liberation Sans" font-size="7.6" fill="#000" stroke="#000" stroke-width="0.33">Liver</text>
<path d="M263.5 201.3H292.2" stroke="#a4acdc" stroke-width="1.0"/>
<rect x="276.10" y="199.60" width="3.40" height="3.40" fill="#fff" stroke="#2f3fa6" stroke-width="0.85"/>
<text x="295.20" y="203.50" font-family="Liberation Sans" font-size="7.6" fill="#1f2f94" stroke="#1f2f94" stroke-width="0.33">Lung</text>
<path d="M263.5 210.6H292.2" stroke="#999" stroke-width="1.7"/>
<circle cx="277.80" cy="210.60" r="2.15" fill="#fff" stroke="#1e1e1e" stroke-width="0.85"/>
<text x="295.20" y="212.80" font-family="Liberation Sans" font-size="7.6" fill="#000" stroke="#000" stroke-width="0.33">Spleen</text>
<path d="M263.5 221.4H292.2" stroke="#4e5cb6" stroke-width="1.0"/>
<rect x="276.10" y="219.70" width="3.40" height="3.40" fill="#fff" stroke="#2f3fa6" stroke-width="0.5"/><path d="M276.35 223.35V219.45L279.25 223.35V219.45" fill="none" stroke="#2f3fa6" stroke-width="1.1"/>
<text x="295.20" y="223.60" font-family="Liberation Sans" font-size="7.6" fill="#1f2f94" stroke="#1f2f94" stroke-width="0.33">Blood</text>
<path d="M263.5 231.2H292.2" stroke="#e5207a" stroke-width="1.4"/>
<rect x="275.90" y="229.30" width="3.80" height="3.80" fill="#fff" stroke="none"/><path d="M275.90 229.30L279.70 233.10M279.70 229.30L275.90 233.10" stroke="#e5207a" stroke-width="1.4"/><rect x="276.20" y="229.60" width="3.20" height="3.20" fill="none" stroke="#e5207a" stroke-width="0.7"/>
<text x="295.20" y="233.40" font-family="Liberation Sans" font-size="7.6" fill="#dc1472" stroke="#dc1472" stroke-width="0.33">Kidney</text>
</svg></body></html>
